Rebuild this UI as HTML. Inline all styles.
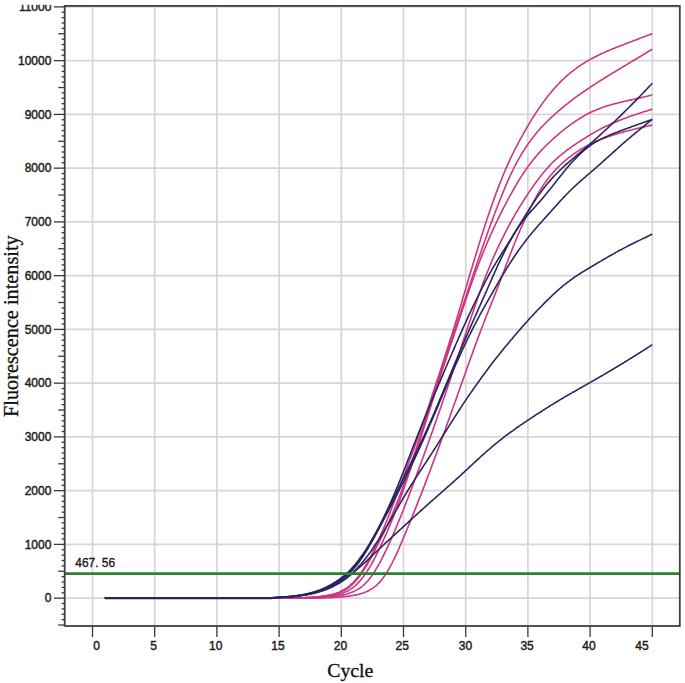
<!DOCTYPE html>
<html><head><meta charset="utf-8"><style>
html,body{margin:0;padding:0;background:#fff;}
body{width:685px;height:683px;overflow:hidden;font-family:"Liberation Sans",sans-serif;}
svg{display:block;}
</style></head><body><svg width="685" height="683" viewBox="0 0 685 683"><g stroke="#d6d6d6" stroke-width="1.7"><line x1="92.50" y1="5.9" x2="92.50" y2="626.0"/><line x1="154.70" y1="5.9" x2="154.70" y2="626.0"/><line x1="216.90" y1="5.9" x2="216.90" y2="626.0"/><line x1="279.10" y1="5.9" x2="279.10" y2="626.0"/><line x1="341.30" y1="5.9" x2="341.30" y2="626.0"/><line x1="403.50" y1="5.9" x2="403.50" y2="626.0"/><line x1="465.70" y1="5.9" x2="465.70" y2="626.0"/><line x1="527.90" y1="5.9" x2="527.90" y2="626.0"/><line x1="590.10" y1="5.9" x2="590.10" y2="626.0"/><line x1="652.30" y1="5.9" x2="652.30" y2="626.0"/><line x1="64.7" y1="598.15" x2="679.8" y2="598.15"/><line x1="64.7" y1="544.40" x2="679.8" y2="544.40"/><line x1="64.7" y1="490.65" x2="679.8" y2="490.65"/><line x1="64.7" y1="436.90" x2="679.8" y2="436.90"/><line x1="64.7" y1="383.15" x2="679.8" y2="383.15"/><line x1="64.7" y1="329.40" x2="679.8" y2="329.40"/><line x1="64.7" y1="275.65" x2="679.8" y2="275.65"/><line x1="64.7" y1="221.90" x2="679.8" y2="221.90"/><line x1="64.7" y1="168.15" x2="679.8" y2="168.15"/><line x1="64.7" y1="114.40" x2="679.8" y2="114.40"/><line x1="64.7" y1="60.65" x2="679.8" y2="60.65"/><line x1="64.7" y1="6.90" x2="679.8" y2="6.90"/></g><g stroke="#3a3a3a" stroke-width="1.3"><line x1="58.2" y1="625.02" x2="64.7" y2="625.02"/><line x1="61.6" y1="619.65" x2="64.7" y2="619.65"/><line x1="61.6" y1="614.27" x2="64.7" y2="614.27"/><line x1="61.6" y1="608.90" x2="64.7" y2="608.90"/><line x1="61.6" y1="603.52" x2="64.7" y2="603.52"/><line x1="53.8" y1="598.15" x2="64.7" y2="598.15"/><line x1="61.6" y1="592.77" x2="64.7" y2="592.77"/><line x1="61.6" y1="587.40" x2="64.7" y2="587.40"/><line x1="61.6" y1="582.02" x2="64.7" y2="582.02"/><line x1="61.6" y1="576.65" x2="64.7" y2="576.65"/><line x1="58.2" y1="571.27" x2="64.7" y2="571.27"/><line x1="61.6" y1="565.90" x2="64.7" y2="565.90"/><line x1="61.6" y1="560.52" x2="64.7" y2="560.52"/><line x1="61.6" y1="555.15" x2="64.7" y2="555.15"/><line x1="61.6" y1="549.77" x2="64.7" y2="549.77"/><line x1="53.8" y1="544.40" x2="64.7" y2="544.40"/><line x1="61.6" y1="539.02" x2="64.7" y2="539.02"/><line x1="61.6" y1="533.65" x2="64.7" y2="533.65"/><line x1="61.6" y1="528.27" x2="64.7" y2="528.27"/><line x1="61.6" y1="522.90" x2="64.7" y2="522.90"/><line x1="58.2" y1="517.52" x2="64.7" y2="517.52"/><line x1="61.6" y1="512.15" x2="64.7" y2="512.15"/><line x1="61.6" y1="506.77" x2="64.7" y2="506.77"/><line x1="61.6" y1="501.40" x2="64.7" y2="501.40"/><line x1="61.6" y1="496.02" x2="64.7" y2="496.02"/><line x1="53.8" y1="490.65" x2="64.7" y2="490.65"/><line x1="61.6" y1="485.27" x2="64.7" y2="485.27"/><line x1="61.6" y1="479.90" x2="64.7" y2="479.90"/><line x1="61.6" y1="474.52" x2="64.7" y2="474.52"/><line x1="61.6" y1="469.15" x2="64.7" y2="469.15"/><line x1="58.2" y1="463.77" x2="64.7" y2="463.77"/><line x1="61.6" y1="458.40" x2="64.7" y2="458.40"/><line x1="61.6" y1="453.02" x2="64.7" y2="453.02"/><line x1="61.6" y1="447.65" x2="64.7" y2="447.65"/><line x1="61.6" y1="442.27" x2="64.7" y2="442.27"/><line x1="53.8" y1="436.90" x2="64.7" y2="436.90"/><line x1="61.6" y1="431.52" x2="64.7" y2="431.52"/><line x1="61.6" y1="426.15" x2="64.7" y2="426.15"/><line x1="61.6" y1="420.77" x2="64.7" y2="420.77"/><line x1="61.6" y1="415.40" x2="64.7" y2="415.40"/><line x1="58.2" y1="410.02" x2="64.7" y2="410.02"/><line x1="61.6" y1="404.65" x2="64.7" y2="404.65"/><line x1="61.6" y1="399.27" x2="64.7" y2="399.27"/><line x1="61.6" y1="393.90" x2="64.7" y2="393.90"/><line x1="61.6" y1="388.52" x2="64.7" y2="388.52"/><line x1="53.8" y1="383.15" x2="64.7" y2="383.15"/><line x1="61.6" y1="377.77" x2="64.7" y2="377.77"/><line x1="61.6" y1="372.40" x2="64.7" y2="372.40"/><line x1="61.6" y1="367.02" x2="64.7" y2="367.02"/><line x1="61.6" y1="361.65" x2="64.7" y2="361.65"/><line x1="58.2" y1="356.27" x2="64.7" y2="356.27"/><line x1="61.6" y1="350.90" x2="64.7" y2="350.90"/><line x1="61.6" y1="345.52" x2="64.7" y2="345.52"/><line x1="61.6" y1="340.15" x2="64.7" y2="340.15"/><line x1="61.6" y1="334.77" x2="64.7" y2="334.77"/><line x1="53.8" y1="329.40" x2="64.7" y2="329.40"/><line x1="61.6" y1="324.02" x2="64.7" y2="324.02"/><line x1="61.6" y1="318.65" x2="64.7" y2="318.65"/><line x1="61.6" y1="313.27" x2="64.7" y2="313.27"/><line x1="61.6" y1="307.90" x2="64.7" y2="307.90"/><line x1="58.2" y1="302.52" x2="64.7" y2="302.52"/><line x1="61.6" y1="297.15" x2="64.7" y2="297.15"/><line x1="61.6" y1="291.77" x2="64.7" y2="291.77"/><line x1="61.6" y1="286.40" x2="64.7" y2="286.40"/><line x1="61.6" y1="281.02" x2="64.7" y2="281.02"/><line x1="53.8" y1="275.65" x2="64.7" y2="275.65"/><line x1="61.6" y1="270.27" x2="64.7" y2="270.27"/><line x1="61.6" y1="264.90" x2="64.7" y2="264.90"/><line x1="61.6" y1="259.52" x2="64.7" y2="259.52"/><line x1="61.6" y1="254.15" x2="64.7" y2="254.15"/><line x1="58.2" y1="248.77" x2="64.7" y2="248.77"/><line x1="61.6" y1="243.40" x2="64.7" y2="243.40"/><line x1="61.6" y1="238.02" x2="64.7" y2="238.02"/><line x1="61.6" y1="232.65" x2="64.7" y2="232.65"/><line x1="61.6" y1="227.27" x2="64.7" y2="227.27"/><line x1="53.8" y1="221.90" x2="64.7" y2="221.90"/><line x1="61.6" y1="216.52" x2="64.7" y2="216.52"/><line x1="61.6" y1="211.15" x2="64.7" y2="211.15"/><line x1="61.6" y1="205.77" x2="64.7" y2="205.77"/><line x1="61.6" y1="200.40" x2="64.7" y2="200.40"/><line x1="58.2" y1="195.02" x2="64.7" y2="195.02"/><line x1="61.6" y1="189.65" x2="64.7" y2="189.65"/><line x1="61.6" y1="184.27" x2="64.7" y2="184.27"/><line x1="61.6" y1="178.90" x2="64.7" y2="178.90"/><line x1="61.6" y1="173.52" x2="64.7" y2="173.52"/><line x1="53.8" y1="168.15" x2="64.7" y2="168.15"/><line x1="61.6" y1="162.77" x2="64.7" y2="162.77"/><line x1="61.6" y1="157.40" x2="64.7" y2="157.40"/><line x1="61.6" y1="152.02" x2="64.7" y2="152.02"/><line x1="61.6" y1="146.65" x2="64.7" y2="146.65"/><line x1="58.2" y1="141.27" x2="64.7" y2="141.27"/><line x1="61.6" y1="135.90" x2="64.7" y2="135.90"/><line x1="61.6" y1="130.52" x2="64.7" y2="130.52"/><line x1="61.6" y1="125.15" x2="64.7" y2="125.15"/><line x1="61.6" y1="119.77" x2="64.7" y2="119.77"/><line x1="53.8" y1="114.40" x2="64.7" y2="114.40"/><line x1="61.6" y1="109.02" x2="64.7" y2="109.02"/><line x1="61.6" y1="103.65" x2="64.7" y2="103.65"/><line x1="61.6" y1="98.27" x2="64.7" y2="98.27"/><line x1="61.6" y1="92.90" x2="64.7" y2="92.90"/><line x1="58.2" y1="87.52" x2="64.7" y2="87.52"/><line x1="61.6" y1="82.15" x2="64.7" y2="82.15"/><line x1="61.6" y1="76.77" x2="64.7" y2="76.77"/><line x1="61.6" y1="71.40" x2="64.7" y2="71.40"/><line x1="61.6" y1="66.02" x2="64.7" y2="66.02"/><line x1="53.8" y1="60.65" x2="64.7" y2="60.65"/><line x1="61.6" y1="55.27" x2="64.7" y2="55.27"/><line x1="61.6" y1="49.90" x2="64.7" y2="49.90"/><line x1="61.6" y1="44.52" x2="64.7" y2="44.52"/><line x1="61.6" y1="39.15" x2="64.7" y2="39.15"/><line x1="58.2" y1="33.77" x2="64.7" y2="33.77"/><line x1="61.6" y1="28.40" x2="64.7" y2="28.40"/><line x1="61.6" y1="23.02" x2="64.7" y2="23.02"/><line x1="61.6" y1="17.65" x2="64.7" y2="17.65"/><line x1="61.6" y1="12.27" x2="64.7" y2="12.27"/><line x1="53.8" y1="6.90" x2="64.7" y2="6.90"/><line x1="92.50" y1="626.0" x2="92.50" y2="637"/><line x1="154.70" y1="626.0" x2="154.70" y2="637"/><line x1="216.90" y1="626.0" x2="216.90" y2="637"/><line x1="279.10" y1="626.0" x2="279.10" y2="637"/><line x1="341.30" y1="626.0" x2="341.30" y2="637"/><line x1="403.50" y1="626.0" x2="403.50" y2="637"/><line x1="465.70" y1="626.0" x2="465.70" y2="637"/><line x1="527.90" y1="626.0" x2="527.90" y2="637"/><line x1="590.10" y1="626.0" x2="590.10" y2="637"/><line x1="652.30" y1="626.0" x2="652.30" y2="637"/></g><line x1="104.9" y1="598.15" x2="272" y2="598.15" stroke="#1f1a52" stroke-width="2.3"/><g fill="none" stroke-width="1.6" stroke-linejoin="round"><path d="M104.9,598.1 L105.9,598.1 L106.9,598.1 L107.9,598.1 L108.9,598.1 L109.9,598.1 L110.9,598.1 L111.9,598.1 L112.9,598.1 L113.9,598.1 L114.9,598.1 L115.9,598.1 L116.9,598.1 L117.9,598.1 L118.9,598.1 L119.9,598.1 L120.9,598.1 L121.9,598.1 L122.9,598.1 L123.9,598.1 L124.9,598.1 L125.9,598.1 L126.9,598.1 L127.9,598.1 L128.9,598.1 L129.9,598.1 L130.9,598.1 L131.9,598.1 L132.9,598.1 L133.9,598.1 L134.9,598.1 L135.9,598.1 L136.9,598.1 L137.9,598.1 L138.9,598.1 L139.9,598.1 L140.9,598.1 L141.9,598.1 L142.9,598.1 L143.9,598.1 L144.9,598.1 L145.9,598.1 L146.9,598.1 L147.9,598.1 L148.9,598.1 L149.9,598.1 L150.9,598.1 L151.9,598.1 L152.9,598.1 L153.9,598.1 L154.9,598.1 L155.9,598.1 L156.9,598.1 L157.9,598.1 L158.9,598.1 L159.9,598.1 L160.9,598.1 L161.9,598.1 L162.9,598.1 L163.9,598.1 L164.9,598.1 L165.9,598.1 L166.9,598.1 L167.9,598.1 L168.9,598.1 L169.9,598.1 L170.9,598.1 L171.9,598.1 L172.9,598.1 L173.9,598.1 L174.9,598.1 L175.9,598.1 L176.9,598.1 L177.9,598.1 L178.9,598.1 L179.9,598.1 L180.9,598.1 L181.9,598.1 L182.9,598.1 L183.9,598.1 L184.9,598.1 L185.9,598.1 L186.9,598.1 L187.9,598.1 L188.9,598.1 L189.9,598.1 L190.9,598.1 L191.9,598.1 L192.9,598.1 L193.9,598.1 L194.9,598.1 L195.9,598.1 L196.9,598.1 L197.9,598.1 L198.9,598.1 L199.9,598.1 L200.9,598.1 L201.9,598.1 L202.9,598.1 L203.9,598.1 L204.9,598.1 L205.9,598.1 L206.9,598.1 L207.9,598.1 L208.9,598.1 L209.9,598.1 L210.9,598.1 L211.9,598.1 L212.9,598.1 L213.9,598.1 L214.9,598.1 L215.9,598.1 L216.9,598.1 L217.9,598.1 L218.9,598.1 L219.9,598.1 L220.9,598.1 L221.9,598.1 L222.9,598.1 L223.9,598.1 L224.9,598.1 L225.9,598.1 L226.9,598.1 L227.9,598.1 L228.9,598.1 L229.9,598.1 L230.9,598.1 L231.9,598.1 L232.9,598.1 L233.9,598.1 L234.9,598.1 L235.9,598.1 L236.9,598.1 L237.9,598.1 L238.9,598.1 L239.9,598.1 L240.9,598.1 L241.9,598.1 L242.9,598.1 L243.9,598.1 L244.9,598.1 L245.9,598.1 L246.9,598.1 L247.9,598.1 L248.9,598.1 L249.9,598.1 L250.9,598.1 L251.9,598.1 L252.9,598.1 L253.9,598.1 L254.9,598.1 L255.9,598.1 L256.9,598.1 L257.9,598.1 L258.9,598.1 L259.9,598.1 L260.9,598.1 L261.9,598.1 L262.9,598.1 L263.9,598.1 L264.9,598.1 L265.9,598.1 L266.9,598.1 L267.9,598.1 L268.9,598.1 L269.9,598.1 L270.9,598.1 L271.9,598.1 L272.9,598.1 L273.9,598.1 L274.9,598.1 L275.9,598.1 L276.9,598.1 L277.9,598.1 L278.9,598.1 L279.9,598.1 L280.9,598.1 L281.9,598.1 L282.9,598.1 L283.9,598.1 L284.9,598.1 L285.9,598.1 L286.9,598.1 L287.9,598.1 L288.9,598.1 L289.9,598.1 L290.9,598.1 L291.9,598.1 L292.9,598.1 L293.9,598.0 L294.9,598.0 L295.9,598.0 L296.9,597.9 L297.9,597.9 L298.9,597.9 L299.9,597.8 L300.9,597.8 L301.9,597.7 L302.9,597.7 L303.9,597.7 L304.9,597.6 L305.9,597.6 L306.9,597.5 L307.9,597.4 L308.9,597.4 L309.9,597.3 L310.9,597.3 L311.9,597.2 L312.9,597.1 L313.9,597.0 L314.9,597.0 L315.9,596.9 L316.9,596.8 L317.9,596.7 L318.9,596.6 L319.9,596.5 L320.9,596.4 L321.9,596.2 L322.9,596.1 L323.9,596.0 L324.9,595.8 L325.9,595.7 L326.9,595.5 L327.9,595.3 L328.9,595.1 L329.9,594.9 L330.9,594.7 L331.9,594.4 L332.9,594.2 L333.9,593.9 L334.9,593.6 L335.9,593.3 L336.9,592.9 L337.9,592.6 L338.9,592.2 L339.9,591.7 L340.9,591.3 L341.9,590.8 L342.9,590.3 L343.9,589.7 L344.9,589.1 L345.9,588.5 L346.9,587.8 L347.9,587.1 L348.9,586.3 L349.9,585.5 L350.9,584.6 L351.9,583.7 L352.9,582.7 L353.9,581.7 L354.9,580.6 L355.9,579.5 L356.9,578.3 L357.9,577.0 L358.9,575.7 L359.9,574.3 L360.9,572.9 L361.9,571.5 L362.9,569.9 L363.9,568.4 L364.9,566.7 L365.9,565.1 L366.9,563.3 L367.9,561.6 L368.9,559.7 L369.9,557.9 L370.9,556.0 L371.9,554.0 L372.9,552.0 L373.9,549.9 L374.9,547.9 L375.9,545.7 L376.9,543.6 L377.9,541.4 L378.9,539.2 L379.9,536.9 L380.9,534.6 L381.9,532.3 L382.9,530.0 L383.9,527.6 L384.9,525.2 L385.9,522.8 L386.9,520.3 L387.9,517.8 L388.9,515.3 L389.9,512.8 L390.9,510.2 L391.9,507.6 L392.9,505.0 L393.9,502.4 L394.9,499.8 L395.9,497.1 L396.9,494.5 L397.9,491.8 L398.9,489.1 L399.9,486.4 L400.9,483.8 L401.9,481.1 L402.9,478.4 L403.9,475.7 L404.9,473.0 L405.9,470.3 L406.9,467.6 L407.9,464.9 L408.9,462.2 L409.9,459.5 L410.9,456.8 L411.9,454.1 L412.9,451.3 L413.9,448.6 L414.9,445.8 L415.9,443.1 L416.9,440.3 L417.9,437.5 L418.9,434.7 L419.9,431.8 L420.9,429.0 L421.9,426.1 L422.9,423.2 L423.9,420.3 L424.9,417.3 L425.9,414.4 L426.9,411.4 L427.9,408.4 L428.9,405.4 L429.9,402.4 L430.9,399.4 L431.9,396.3 L432.9,393.3 L433.9,390.2 L434.9,387.2 L435.9,384.1 L436.9,381.1 L437.9,378.0 L438.9,374.9 L439.9,371.9 L440.9,368.8 L441.9,365.7 L442.9,362.6 L443.9,359.5 L444.9,356.4 L445.9,353.3 L446.9,350.2 L447.9,347.1 L448.9,343.9 L449.9,340.8 L450.9,337.6 L451.9,334.4 L452.9,331.2 L453.9,328.0 L454.9,324.7 L455.9,321.5 L456.9,318.2 L457.9,314.9 L458.9,311.5 L459.9,308.2 L460.9,304.9 L461.9,301.5 L462.9,298.1 L463.9,294.8 L464.9,291.4 L465.9,288.0 L466.9,284.6 L467.9,281.2 L468.9,277.8 L469.9,274.5 L470.9,271.1 L471.9,267.8 L472.9,264.4 L473.9,261.1 L474.9,257.8 L475.9,254.4 L476.9,251.2 L477.9,247.9 L478.9,244.6 L479.9,241.4 L480.9,238.2 L481.9,235.0 L482.9,231.9 L483.9,228.8 L484.9,225.7 L485.9,222.6 L486.9,219.6 L487.9,216.6 L488.9,213.7 L489.9,210.7 L490.9,207.8 L491.9,205.0 L492.9,202.1 L493.9,199.3 L494.9,196.6 L495.9,193.8 L496.9,191.1 L497.9,188.5 L498.9,185.9 L499.9,183.3 L500.9,180.7 L501.9,178.2 L502.9,175.8 L503.9,173.4 L504.9,171.0 L505.9,168.6 L506.9,166.4 L507.9,164.1 L508.9,161.9 L509.9,159.8 L510.9,157.6 L511.9,155.6 L512.9,153.5 L513.9,151.5 L514.9,149.5 L515.9,147.6 L516.9,145.7 L517.9,143.8 L518.9,141.9 L519.9,140.0 L520.9,138.2 L521.9,136.4 L522.9,134.6 L523.9,132.8 L524.9,131.0 L525.9,129.3 L526.9,127.5 L527.9,125.8 L528.9,124.1 L529.9,122.5 L530.9,120.8 L531.9,119.2 L532.9,117.6 L533.9,116.0 L534.9,114.5 L535.9,112.9 L536.9,111.4 L537.9,109.9 L538.9,108.4 L539.9,107.0 L540.9,105.5 L541.9,104.1 L542.9,102.7 L543.9,101.4 L544.9,100.0 L545.9,98.7 L546.9,97.4 L547.9,96.1 L548.9,94.9 L549.9,93.6 L550.9,92.4 L551.9,91.2 L552.9,90.0 L553.9,88.9 L554.9,87.8 L555.9,86.7 L556.9,85.6 L557.9,84.5 L558.9,83.5 L559.9,82.4 L560.9,81.4 L561.9,80.4 L562.9,79.5 L563.9,78.5 L564.9,77.6 L565.9,76.7 L566.9,75.8 L567.9,74.9 L568.9,74.1 L569.9,73.2 L570.9,72.4 L571.9,71.6 L572.9,70.8 L573.9,70.1 L574.9,69.3 L575.9,68.6 L576.9,67.8 L577.9,67.1 L578.9,66.4 L579.9,65.8 L580.9,65.1 L581.9,64.4 L582.9,63.8 L583.9,63.2 L584.9,62.5 L585.9,61.9 L586.9,61.3 L587.9,60.8 L588.9,60.2 L589.9,59.6 L590.9,59.1 L591.9,58.5 L592.9,58.0 L593.9,57.5 L594.9,57.0 L595.9,56.5 L596.9,56.0 L597.9,55.5 L598.9,55.0 L599.9,54.5 L600.9,54.0 L601.9,53.6 L602.9,53.1 L603.9,52.7 L604.9,52.2 L605.9,51.8 L606.9,51.3 L607.9,50.9 L608.9,50.5 L609.9,50.1 L610.9,49.6 L611.9,49.2 L612.9,48.8 L613.9,48.4 L614.9,48.0 L615.9,47.6 L616.9,47.2 L617.9,46.8 L618.9,46.4 L619.9,46.0 L620.9,45.6 L621.9,45.2 L622.9,44.9 L623.9,44.5 L624.9,44.1 L625.9,43.7 L626.9,43.3 L627.9,42.9 L628.9,42.5 L629.9,42.1 L630.9,41.8 L631.9,41.4 L632.9,41.0 L633.9,40.6 L634.9,40.2 L635.9,39.9 L636.9,39.5 L637.9,39.1 L638.9,38.7 L639.9,38.3 L640.9,38.0 L641.9,37.6 L642.9,37.2 L643.9,36.8 L644.9,36.5 L645.9,36.1 L646.9,35.7 L647.9,35.3 L648.9,35.0 L649.9,34.6 L650.9,34.2 L651.9,33.8 L652.3,33.7" stroke="#cc3582"/><path d="M104.9,598.1 L105.9,598.1 L106.9,598.1 L107.9,598.1 L108.9,598.1 L109.9,598.1 L110.9,598.1 L111.9,598.1 L112.9,598.1 L113.9,598.1 L114.9,598.1 L115.9,598.1 L116.9,598.1 L117.9,598.1 L118.9,598.1 L119.9,598.1 L120.9,598.1 L121.9,598.1 L122.9,598.1 L123.9,598.1 L124.9,598.1 L125.9,598.1 L126.9,598.1 L127.9,598.1 L128.9,598.1 L129.9,598.1 L130.9,598.1 L131.9,598.1 L132.9,598.1 L133.9,598.1 L134.9,598.1 L135.9,598.1 L136.9,598.1 L137.9,598.1 L138.9,598.1 L139.9,598.1 L140.9,598.1 L141.9,598.1 L142.9,598.1 L143.9,598.1 L144.9,598.1 L145.9,598.1 L146.9,598.1 L147.9,598.1 L148.9,598.1 L149.9,598.1 L150.9,598.1 L151.9,598.1 L152.9,598.1 L153.9,598.1 L154.9,598.1 L155.9,598.1 L156.9,598.1 L157.9,598.1 L158.9,598.1 L159.9,598.1 L160.9,598.1 L161.9,598.1 L162.9,598.1 L163.9,598.1 L164.9,598.1 L165.9,598.1 L166.9,598.1 L167.9,598.1 L168.9,598.1 L169.9,598.1 L170.9,598.1 L171.9,598.1 L172.9,598.1 L173.9,598.1 L174.9,598.1 L175.9,598.1 L176.9,598.1 L177.9,598.1 L178.9,598.1 L179.9,598.1 L180.9,598.1 L181.9,598.1 L182.9,598.1 L183.9,598.1 L184.9,598.1 L185.9,598.1 L186.9,598.1 L187.9,598.1 L188.9,598.1 L189.9,598.1 L190.9,598.1 L191.9,598.1 L192.9,598.1 L193.9,598.1 L194.9,598.1 L195.9,598.1 L196.9,598.1 L197.9,598.1 L198.9,598.1 L199.9,598.1 L200.9,598.1 L201.9,598.1 L202.9,598.1 L203.9,598.1 L204.9,598.1 L205.9,598.1 L206.9,598.1 L207.9,598.1 L208.9,598.1 L209.9,598.1 L210.9,598.1 L211.9,598.1 L212.9,598.1 L213.9,598.1 L214.9,598.1 L215.9,598.1 L216.9,598.1 L217.9,598.1 L218.9,598.1 L219.9,598.1 L220.9,598.1 L221.9,598.1 L222.9,598.1 L223.9,598.1 L224.9,598.1 L225.9,598.1 L226.9,598.1 L227.9,598.1 L228.9,598.1 L229.9,598.1 L230.9,598.1 L231.9,598.1 L232.9,598.1 L233.9,598.1 L234.9,598.1 L235.9,598.1 L236.9,598.1 L237.9,598.1 L238.9,598.1 L239.9,598.1 L240.9,598.1 L241.9,598.1 L242.9,598.1 L243.9,598.1 L244.9,598.1 L245.9,598.1 L246.9,598.1 L247.9,598.1 L248.9,598.1 L249.9,598.1 L250.9,598.1 L251.9,598.1 L252.9,598.1 L253.9,598.1 L254.9,598.1 L255.9,598.1 L256.9,598.1 L257.9,598.1 L258.9,598.1 L259.9,598.1 L260.9,598.1 L261.9,598.1 L262.9,598.1 L263.9,598.1 L264.9,598.1 L265.9,598.1 L266.9,598.1 L267.9,598.1 L268.9,598.1 L269.9,598.1 L270.9,598.1 L271.9,598.1 L272.9,598.1 L273.9,598.1 L274.9,598.1 L275.9,598.1 L276.9,598.1 L277.9,598.1 L278.9,598.1 L279.9,598.1 L280.9,598.1 L281.9,598.1 L282.9,598.1 L283.9,598.1 L284.9,598.1 L285.9,598.1 L286.9,598.1 L287.9,598.1 L288.9,598.1 L289.9,598.1 L290.9,598.1 L291.9,598.1 L292.9,598.1 L293.9,598.1 L294.9,598.1 L295.9,598.0 L296.9,598.0 L297.9,598.0 L298.9,597.9 L299.9,597.9 L300.9,597.9 L301.9,597.8 L302.9,597.8 L303.9,597.7 L304.9,597.7 L305.9,597.7 L306.9,597.6 L307.9,597.6 L308.9,597.5 L309.9,597.4 L310.9,597.4 L311.9,597.3 L312.9,597.3 L313.9,597.2 L314.9,597.1 L315.9,597.0 L316.9,597.0 L317.9,596.9 L318.9,596.8 L319.9,596.7 L320.9,596.6 L321.9,596.5 L322.9,596.4 L323.9,596.3 L324.9,596.1 L325.9,596.0 L326.9,595.8 L327.9,595.7 L328.9,595.5 L329.9,595.3 L330.9,595.1 L331.9,594.9 L332.9,594.7 L333.9,594.4 L334.9,594.2 L335.9,593.9 L336.9,593.6 L337.9,593.2 L338.9,592.9 L339.9,592.5 L340.9,592.0 L341.9,591.6 L342.9,591.1 L343.9,590.6 L344.9,590.0 L345.9,589.4 L346.9,588.8 L347.9,588.1 L348.9,587.4 L349.9,586.6 L350.9,585.7 L351.9,584.8 L352.9,583.9 L353.9,582.9 L354.9,581.9 L355.9,580.7 L356.9,579.6 L357.9,578.4 L358.9,577.1 L359.9,575.7 L360.9,574.4 L361.9,572.9 L362.9,571.4 L363.9,569.9 L364.9,568.3 L365.9,566.7 L366.9,565.0 L367.9,563.3 L368.9,561.6 L369.9,559.8 L370.9,558.0 L371.9,556.1 L372.9,554.2 L373.9,552.3 L374.9,550.4 L375.9,548.4 L376.9,546.5 L377.9,544.5 L378.9,542.5 L379.9,540.5 L380.9,538.4 L381.9,536.4 L382.9,534.4 L383.9,532.3 L384.9,530.2 L385.9,528.1 L386.9,526.0 L387.9,523.9 L388.9,521.7 L389.9,519.6 L390.9,517.3 L391.9,515.1 L392.9,512.8 L393.9,510.4 L394.9,508.0 L395.9,505.6 L396.9,503.1 L397.9,500.6 L398.9,498.0 L399.9,495.4 L400.9,492.7 L401.9,490.0 L402.9,487.3 L403.9,484.5 L404.9,481.8 L405.9,478.9 L406.9,476.1 L407.9,473.2 L408.9,470.3 L409.9,467.4 L410.9,464.5 L411.9,461.5 L412.9,458.5 L413.9,455.5 L414.9,452.4 L415.9,449.4 L416.9,446.3 L417.9,443.2 L418.9,440.1 L419.9,437.0 L420.9,433.9 L421.9,430.8 L422.9,427.7 L423.9,424.5 L424.9,421.4 L425.9,418.3 L426.9,415.1 L427.9,412.0 L428.9,408.8 L429.9,405.7 L430.9,402.5 L431.9,399.4 L432.9,396.2 L433.9,393.1 L434.9,390.0 L435.9,386.9 L436.9,383.8 L437.9,380.7 L438.9,377.6 L439.9,374.5 L440.9,371.5 L441.9,368.4 L442.9,365.4 L443.9,362.3 L444.9,359.3 L445.9,356.3 L446.9,353.3 L447.9,350.3 L448.9,347.3 L449.9,344.3 L450.9,341.3 L451.9,338.3 L452.9,335.3 L453.9,332.3 L454.9,329.3 L455.9,326.4 L456.9,323.4 L457.9,320.4 L458.9,317.4 L459.9,314.4 L460.9,311.4 L461.9,308.4 L462.9,305.4 L463.9,302.4 L464.9,299.4 L465.9,296.4 L466.9,293.5 L467.9,290.5 L468.9,287.5 L469.9,284.5 L470.9,281.5 L471.9,278.5 L472.9,275.6 L473.9,272.6 L474.9,269.7 L475.9,266.7 L476.9,263.8 L477.9,260.8 L478.9,257.9 L479.9,255.0 L480.9,252.1 L481.9,249.2 L482.9,246.3 L483.9,243.4 L484.9,240.5 L485.9,237.7 L486.9,234.9 L487.9,232.1 L488.9,229.3 L489.9,226.5 L490.9,223.8 L491.9,221.1 L492.9,218.4 L493.9,215.7 L494.9,213.0 L495.9,210.4 L496.9,207.8 L497.9,205.2 L498.9,202.6 L499.9,200.1 L500.9,197.6 L501.9,195.1 L502.9,192.6 L503.9,190.2 L504.9,187.8 L505.9,185.4 L506.9,183.1 L507.9,180.8 L508.9,178.6 L509.9,176.4 L510.9,174.2 L511.9,172.1 L512.9,170.0 L513.9,168.0 L514.9,166.0 L515.9,164.1 L516.9,162.2 L517.9,160.4 L518.9,158.6 L519.9,156.9 L520.9,155.2 L521.9,153.5 L522.9,151.9 L523.9,150.3 L524.9,148.7 L525.9,147.2 L526.9,145.8 L527.9,144.3 L528.9,142.9 L529.9,141.5 L530.9,140.1 L531.9,138.8 L532.9,137.5 L533.9,136.2 L534.9,134.9 L535.9,133.7 L536.9,132.5 L537.9,131.3 L538.9,130.2 L539.9,129.0 L540.9,127.9 L541.9,126.8 L542.9,125.8 L543.9,124.7 L544.9,123.7 L545.9,122.7 L546.9,121.7 L547.9,120.7 L548.9,119.7 L549.9,118.7 L550.9,117.8 L551.9,116.9 L552.9,116.0 L553.9,115.0 L554.9,114.1 L555.9,113.3 L556.9,112.4 L557.9,111.5 L558.9,110.6 L559.9,109.8 L560.9,108.9 L561.9,108.1 L562.9,107.3 L563.9,106.5 L564.9,105.6 L565.9,104.8 L566.9,104.0 L567.9,103.3 L568.9,102.5 L569.9,101.7 L570.9,100.9 L571.9,100.2 L572.9,99.4 L573.9,98.7 L574.9,97.9 L575.9,97.2 L576.9,96.4 L577.9,95.7 L578.9,95.0 L579.9,94.3 L580.9,93.6 L581.9,92.9 L582.9,92.2 L583.9,91.5 L584.9,90.8 L585.9,90.1 L586.9,89.4 L587.9,88.8 L588.9,88.1 L589.9,87.4 L590.9,86.8 L591.9,86.1 L592.9,85.4 L593.9,84.8 L594.9,84.1 L595.9,83.5 L596.9,82.9 L597.9,82.2 L598.9,81.6 L599.9,80.9 L600.9,80.3 L601.9,79.7 L602.9,79.1 L603.9,78.4 L604.9,77.8 L605.9,77.2 L606.9,76.6 L607.9,76.0 L608.9,75.4 L609.9,74.7 L610.9,74.1 L611.9,73.5 L612.9,72.9 L613.9,72.3 L614.9,71.7 L615.9,71.1 L616.9,70.5 L617.9,69.9 L618.9,69.3 L619.9,68.7 L620.9,68.1 L621.9,67.5 L622.9,66.9 L623.9,66.3 L624.9,65.7 L625.9,65.1 L626.9,64.5 L627.9,63.9 L628.9,63.3 L629.9,62.7 L630.9,62.1 L631.9,61.5 L632.9,60.9 L633.9,60.3 L634.9,59.7 L635.9,59.1 L636.9,58.5 L637.9,57.9 L638.9,57.3 L639.9,56.7 L640.9,56.1 L641.9,55.5 L642.9,54.9 L643.9,54.3 L644.9,53.7 L645.9,53.0 L646.9,52.4 L647.9,51.8 L648.9,51.2 L649.9,50.6 L650.9,50.0 L651.9,49.4 L652.3,49.2" stroke="#cc3582"/><path d="M104.9,598.1 L105.9,598.1 L106.9,598.1 L107.9,598.1 L108.9,598.1 L109.9,598.1 L110.9,598.1 L111.9,598.1 L112.9,598.1 L113.9,598.1 L114.9,598.1 L115.9,598.1 L116.9,598.1 L117.9,598.1 L118.9,598.1 L119.9,598.1 L120.9,598.1 L121.9,598.1 L122.9,598.1 L123.9,598.1 L124.9,598.1 L125.9,598.1 L126.9,598.1 L127.9,598.1 L128.9,598.1 L129.9,598.1 L130.9,598.1 L131.9,598.1 L132.9,598.1 L133.9,598.1 L134.9,598.1 L135.9,598.1 L136.9,598.1 L137.9,598.1 L138.9,598.1 L139.9,598.1 L140.9,598.1 L141.9,598.1 L142.9,598.1 L143.9,598.1 L144.9,598.1 L145.9,598.1 L146.9,598.1 L147.9,598.1 L148.9,598.1 L149.9,598.1 L150.9,598.1 L151.9,598.1 L152.9,598.1 L153.9,598.1 L154.9,598.1 L155.9,598.1 L156.9,598.1 L157.9,598.1 L158.9,598.1 L159.9,598.1 L160.9,598.1 L161.9,598.1 L162.9,598.1 L163.9,598.1 L164.9,598.1 L165.9,598.1 L166.9,598.1 L167.9,598.1 L168.9,598.1 L169.9,598.1 L170.9,598.1 L171.9,598.1 L172.9,598.1 L173.9,598.1 L174.9,598.1 L175.9,598.1 L176.9,598.1 L177.9,598.1 L178.9,598.1 L179.9,598.1 L180.9,598.1 L181.9,598.1 L182.9,598.1 L183.9,598.1 L184.9,598.1 L185.9,598.1 L186.9,598.1 L187.9,598.1 L188.9,598.1 L189.9,598.1 L190.9,598.1 L191.9,598.1 L192.9,598.1 L193.9,598.1 L194.9,598.1 L195.9,598.1 L196.9,598.1 L197.9,598.1 L198.9,598.1 L199.9,598.1 L200.9,598.1 L201.9,598.1 L202.9,598.1 L203.9,598.1 L204.9,598.1 L205.9,598.1 L206.9,598.1 L207.9,598.1 L208.9,598.1 L209.9,598.1 L210.9,598.1 L211.9,598.1 L212.9,598.1 L213.9,598.1 L214.9,598.1 L215.9,598.1 L216.9,598.1 L217.9,598.1 L218.9,598.1 L219.9,598.1 L220.9,598.1 L221.9,598.1 L222.9,598.1 L223.9,598.1 L224.9,598.1 L225.9,598.1 L226.9,598.1 L227.9,598.1 L228.9,598.1 L229.9,598.1 L230.9,598.1 L231.9,598.1 L232.9,598.1 L233.9,598.1 L234.9,598.1 L235.9,598.1 L236.9,598.1 L237.9,598.1 L238.9,598.1 L239.9,598.1 L240.9,598.1 L241.9,598.1 L242.9,598.1 L243.9,598.1 L244.9,598.1 L245.9,598.1 L246.9,598.1 L247.9,598.1 L248.9,598.1 L249.9,598.1 L250.9,598.1 L251.9,598.1 L252.9,598.1 L253.9,598.1 L254.9,598.1 L255.9,598.1 L256.9,598.1 L257.9,598.1 L258.9,598.1 L259.9,598.1 L260.9,598.1 L261.9,598.1 L262.9,598.1 L263.9,598.1 L264.9,598.1 L265.9,598.1 L266.9,598.1 L267.9,598.1 L268.9,598.1 L269.9,598.1 L270.9,598.1 L271.9,598.1 L272.9,598.1 L273.9,598.1 L274.9,598.1 L275.9,598.1 L276.9,598.1 L277.9,598.1 L278.9,598.1 L279.9,598.1 L280.9,598.1 L281.9,598.1 L282.9,598.1 L283.9,598.1 L284.9,598.1 L285.9,598.1 L286.9,598.1 L287.9,598.1 L288.9,598.1 L289.9,598.1 L290.9,598.1 L291.9,598.1 L292.9,598.1 L293.9,598.1 L294.9,598.1 L295.9,598.1 L296.9,598.1 L297.9,598.1 L298.9,598.1 L299.9,598.0 L300.9,598.0 L301.9,598.0 L302.9,597.9 L303.9,597.9 L304.9,597.9 L305.9,597.8 L306.9,597.8 L307.9,597.7 L308.9,597.7 L309.9,597.7 L310.9,597.6 L311.9,597.6 L312.9,597.5 L313.9,597.4 L314.9,597.4 L315.9,597.3 L316.9,597.3 L317.9,597.2 L318.9,597.1 L319.9,597.0 L320.9,597.0 L321.9,596.9 L322.9,596.8 L323.9,596.7 L324.9,596.6 L325.9,596.5 L326.9,596.4 L327.9,596.3 L328.9,596.1 L329.9,596.0 L330.9,595.8 L331.9,595.7 L332.9,595.5 L333.9,595.3 L334.9,595.1 L335.9,594.9 L336.9,594.7 L337.9,594.4 L338.9,594.2 L339.9,593.9 L340.9,593.6 L341.9,593.3 L342.9,592.9 L343.9,592.5 L344.9,592.1 L345.9,591.7 L346.9,591.2 L347.9,590.7 L348.9,590.1 L349.9,589.6 L350.9,588.9 L351.9,588.3 L352.9,587.5 L353.9,586.8 L354.9,586.0 L355.9,585.1 L356.9,584.1 L357.9,583.2 L358.9,582.1 L359.9,581.0 L360.9,579.8 L361.9,578.6 L362.9,577.3 L363.9,576.0 L364.9,574.6 L365.9,573.1 L366.9,571.6 L367.9,570.0 L368.9,568.4 L369.9,566.8 L370.9,565.1 L371.9,563.3 L372.9,561.5 L373.9,559.7 L374.9,557.8 L375.9,555.8 L376.9,553.8 L377.9,551.8 L378.9,549.8 L379.9,547.7 L380.9,545.6 L381.9,543.4 L382.9,541.2 L383.9,539.0 L384.9,536.8 L385.9,534.6 L386.9,532.3 L387.9,530.0 L388.9,527.6 L389.9,525.2 L390.9,522.8 L391.9,520.4 L392.9,517.9 L393.9,515.4 L394.9,512.9 L395.9,510.3 L396.9,507.7 L397.9,505.0 L398.9,502.3 L399.9,499.6 L400.9,496.8 L401.9,494.0 L402.9,491.2 L403.9,488.4 L404.9,485.5 L405.9,482.6 L406.9,479.7 L407.9,476.8 L408.9,473.8 L409.9,470.9 L410.9,467.9 L411.9,464.9 L412.9,461.9 L413.9,458.9 L414.9,455.8 L415.9,452.8 L416.9,449.7 L417.9,446.7 L418.9,443.6 L419.9,440.5 L420.9,437.4 L421.9,434.2 L422.9,431.1 L423.9,428.0 L424.9,424.8 L425.9,421.7 L426.9,418.5 L427.9,415.4 L428.9,412.2 L429.9,409.0 L430.9,405.9 L431.9,402.7 L432.9,399.6 L433.9,396.4 L434.9,393.3 L435.9,390.1 L436.9,387.0 L437.9,383.9 L438.9,380.8 L439.9,377.7 L440.9,374.6 L441.9,371.5 L442.9,368.5 L443.9,365.4 L444.9,362.4 L445.9,359.4 L446.9,356.3 L447.9,353.3 L448.9,350.3 L449.9,347.3 L450.9,344.3 L451.9,341.3 L452.9,338.4 L453.9,335.4 L454.9,332.4 L455.9,329.4 L456.9,326.4 L457.9,323.4 L458.9,320.4 L459.9,317.4 L460.9,314.5 L461.9,311.5 L462.9,308.5 L463.9,305.5 L464.9,302.6 L465.9,299.6 L466.9,296.7 L467.9,293.7 L468.9,290.8 L469.9,288.0 L470.9,285.1 L471.9,282.3 L472.9,279.5 L473.9,276.7 L474.9,273.9 L475.9,271.2 L476.9,268.5 L477.9,265.9 L478.9,263.3 L479.9,260.7 L480.9,258.1 L481.9,255.6 L482.9,253.1 L483.9,250.7 L484.9,248.3 L485.9,245.9 L486.9,243.5 L487.9,241.2 L488.9,238.9 L489.9,236.6 L490.9,234.3 L491.9,232.1 L492.9,229.9 L493.9,227.7 L494.9,225.6 L495.9,223.5 L496.9,221.4 L497.9,219.3 L498.9,217.2 L499.9,215.2 L500.9,213.2 L501.9,211.2 L502.9,209.2 L503.9,207.2 L504.9,205.3 L505.9,203.4 L506.9,201.5 L507.9,199.6 L508.9,197.7 L509.9,195.9 L510.9,194.1 L511.9,192.3 L512.9,190.5 L513.9,188.7 L514.9,187.0 L515.9,185.3 L516.9,183.6 L517.9,182.0 L518.9,180.3 L519.9,178.7 L520.9,177.1 L521.9,175.6 L522.9,174.0 L523.9,172.5 L524.9,171.1 L525.9,169.6 L526.9,168.2 L527.9,166.8 L528.9,165.4 L529.9,164.1 L530.9,162.8 L531.9,161.5 L532.9,160.2 L533.9,159.0 L534.9,157.8 L535.9,156.6 L536.9,155.4 L537.9,154.2 L538.9,153.1 L539.9,152.0 L540.9,150.9 L541.9,149.9 L542.9,148.8 L543.9,147.8 L544.9,146.8 L545.9,145.8 L546.9,144.8 L547.9,143.8 L548.9,142.8 L549.9,141.9 L550.9,141.0 L551.9,140.0 L552.9,139.1 L553.9,138.2 L554.9,137.3 L555.9,136.4 L556.9,135.6 L557.9,134.7 L558.9,133.8 L559.9,133.0 L560.9,132.2 L561.9,131.3 L562.9,130.5 L563.9,129.7 L564.9,128.9 L565.9,128.1 L566.9,127.4 L567.9,126.6 L568.9,125.9 L569.9,125.1 L570.9,124.4 L571.9,123.7 L572.9,123.0 L573.9,122.3 L574.9,121.6 L575.9,120.9 L576.9,120.3 L577.9,119.6 L578.9,119.0 L579.9,118.3 L580.9,117.7 L581.9,117.1 L582.9,116.5 L583.9,116.0 L584.9,115.4 L585.9,114.8 L586.9,114.3 L587.9,113.8 L588.9,113.3 L589.9,112.8 L590.9,112.3 L591.9,111.8 L592.9,111.3 L593.9,110.9 L594.9,110.5 L595.9,110.0 L596.9,109.6 L597.9,109.2 L598.9,108.8 L599.9,108.4 L600.9,108.0 L601.9,107.7 L602.9,107.3 L603.9,107.0 L604.9,106.6 L605.9,106.3 L606.9,106.0 L607.9,105.7 L608.9,105.4 L609.9,105.1 L610.9,104.8 L611.9,104.5 L612.9,104.2 L613.9,103.9 L614.9,103.7 L615.9,103.4 L616.9,103.2 L617.9,102.9 L618.9,102.7 L619.9,102.4 L620.9,102.2 L621.9,101.9 L622.9,101.7 L623.9,101.5 L624.9,101.2 L625.9,101.0 L626.9,100.8 L627.9,100.6 L628.9,100.4 L629.9,100.1 L630.9,99.9 L631.9,99.7 L632.9,99.5 L633.9,99.3 L634.9,99.0 L635.9,98.8 L636.9,98.6 L637.9,98.4 L638.9,98.1 L639.9,97.9 L640.9,97.7 L641.9,97.4 L642.9,97.2 L643.9,97.0 L644.9,96.7 L645.9,96.5 L646.9,96.2 L647.9,96.0 L648.9,95.7 L649.9,95.5 L650.9,95.2 L651.9,95.0 L652.3,94.9" stroke="#cc3582"/><path d="M104.9,598.1 L105.9,598.1 L106.9,598.1 L107.9,598.1 L108.9,598.1 L109.9,598.1 L110.9,598.1 L111.9,598.1 L112.9,598.1 L113.9,598.1 L114.9,598.1 L115.9,598.1 L116.9,598.1 L117.9,598.1 L118.9,598.1 L119.9,598.1 L120.9,598.1 L121.9,598.1 L122.9,598.1 L123.9,598.1 L124.9,598.1 L125.9,598.1 L126.9,598.1 L127.9,598.1 L128.9,598.1 L129.9,598.1 L130.9,598.1 L131.9,598.1 L132.9,598.1 L133.9,598.1 L134.9,598.1 L135.9,598.1 L136.9,598.1 L137.9,598.1 L138.9,598.1 L139.9,598.1 L140.9,598.1 L141.9,598.1 L142.9,598.1 L143.9,598.1 L144.9,598.1 L145.9,598.1 L146.9,598.1 L147.9,598.1 L148.9,598.1 L149.9,598.1 L150.9,598.1 L151.9,598.1 L152.9,598.1 L153.9,598.1 L154.9,598.1 L155.9,598.1 L156.9,598.1 L157.9,598.1 L158.9,598.1 L159.9,598.1 L160.9,598.1 L161.9,598.1 L162.9,598.1 L163.9,598.1 L164.9,598.1 L165.9,598.1 L166.9,598.1 L167.9,598.1 L168.9,598.1 L169.9,598.1 L170.9,598.1 L171.9,598.1 L172.9,598.1 L173.9,598.1 L174.9,598.1 L175.9,598.1 L176.9,598.1 L177.9,598.1 L178.9,598.1 L179.9,598.1 L180.9,598.1 L181.9,598.1 L182.9,598.1 L183.9,598.1 L184.9,598.1 L185.9,598.1 L186.9,598.1 L187.9,598.1 L188.9,598.1 L189.9,598.1 L190.9,598.1 L191.9,598.1 L192.9,598.1 L193.9,598.1 L194.9,598.1 L195.9,598.1 L196.9,598.1 L197.9,598.1 L198.9,598.1 L199.9,598.1 L200.9,598.1 L201.9,598.1 L202.9,598.1 L203.9,598.1 L204.9,598.1 L205.9,598.1 L206.9,598.1 L207.9,598.1 L208.9,598.1 L209.9,598.1 L210.9,598.1 L211.9,598.1 L212.9,598.1 L213.9,598.1 L214.9,598.1 L215.9,598.1 L216.9,598.1 L217.9,598.1 L218.9,598.1 L219.9,598.1 L220.9,598.1 L221.9,598.1 L222.9,598.1 L223.9,598.1 L224.9,598.1 L225.9,598.1 L226.9,598.1 L227.9,598.1 L228.9,598.1 L229.9,598.1 L230.9,598.1 L231.9,598.1 L232.9,598.1 L233.9,598.1 L234.9,598.1 L235.9,598.1 L236.9,598.1 L237.9,598.1 L238.9,598.1 L239.9,598.1 L240.9,598.1 L241.9,598.1 L242.9,598.1 L243.9,598.1 L244.9,598.1 L245.9,598.1 L246.9,598.1 L247.9,598.1 L248.9,598.1 L249.9,598.1 L250.9,598.1 L251.9,598.1 L252.9,598.1 L253.9,598.1 L254.9,598.1 L255.9,598.1 L256.9,598.1 L257.9,598.1 L258.9,598.1 L259.9,598.1 L260.9,598.1 L261.9,598.1 L262.9,598.1 L263.9,598.1 L264.9,598.1 L265.9,598.1 L266.9,598.1 L267.9,598.1 L268.9,598.1 L269.9,598.1 L270.9,598.1 L271.9,598.1 L272.9,598.1 L273.9,598.1 L274.9,598.1 L275.9,598.1 L276.9,598.1 L277.9,598.1 L278.9,598.1 L279.9,598.1 L280.9,598.1 L281.9,598.1 L282.9,598.1 L283.9,598.1 L284.9,598.1 L285.9,598.1 L286.9,598.1 L287.9,598.1 L288.9,598.1 L289.9,598.1 L290.9,598.1 L291.9,598.1 L292.9,598.1 L293.9,598.1 L294.9,598.1 L295.9,598.1 L296.9,598.1 L297.9,598.1 L298.9,598.1 L299.9,598.1 L300.9,598.1 L301.9,598.1 L302.9,598.1 L303.9,598.1 L304.9,598.1 L305.9,598.1 L306.9,598.0 L307.9,598.0 L308.9,598.0 L309.9,597.9 L310.9,597.9 L311.9,597.9 L312.9,597.8 L313.9,597.8 L314.9,597.7 L315.9,597.7 L316.9,597.7 L317.9,597.6 L318.9,597.6 L319.9,597.5 L320.9,597.4 L321.9,597.4 L322.9,597.3 L323.9,597.3 L324.9,597.2 L325.9,597.1 L326.9,597.0 L327.9,597.0 L328.9,596.9 L329.9,596.8 L330.9,596.7 L331.9,596.6 L332.9,596.5 L333.9,596.4 L334.9,596.2 L335.9,596.1 L336.9,596.0 L337.9,595.8 L338.9,595.7 L339.9,595.5 L340.9,595.3 L341.9,595.1 L342.9,594.9 L343.9,594.7 L344.9,594.5 L345.9,594.2 L346.9,593.9 L347.9,593.6 L348.9,593.3 L349.9,593.0 L350.9,592.6 L351.9,592.2 L352.9,591.8 L353.9,591.4 L354.9,590.9 L355.9,590.4 L356.9,589.9 L357.9,589.3 L358.9,588.7 L359.9,588.0 L360.9,587.3 L361.9,586.5 L362.9,585.7 L363.9,584.8 L364.9,583.9 L365.9,582.9 L366.9,581.8 L367.9,580.7 L368.9,579.5 L369.9,578.2 L370.9,576.9 L371.9,575.5 L372.9,574.1 L373.9,572.6 L374.9,571.0 L375.9,569.4 L376.9,567.7 L377.9,566.0 L378.9,564.3 L379.9,562.4 L380.9,560.6 L381.9,558.7 L382.9,556.7 L383.9,554.7 L384.9,552.7 L385.9,550.6 L386.9,548.4 L387.9,546.3 L388.9,544.1 L389.9,541.9 L390.9,539.7 L391.9,537.4 L392.9,535.1 L393.9,532.8 L394.9,530.5 L395.9,528.1 L396.9,525.7 L397.9,523.3 L398.9,520.9 L399.9,518.5 L400.9,516.0 L401.9,513.5 L402.9,511.0 L403.9,508.5 L404.9,505.9 L405.9,503.4 L406.9,500.8 L407.9,498.2 L408.9,495.5 L409.9,492.9 L410.9,490.2 L411.9,487.6 L412.9,484.9 L413.9,482.2 L414.9,479.5 L415.9,476.9 L416.9,474.1 L417.9,471.4 L418.9,468.7 L419.9,466.0 L420.9,463.3 L421.9,460.5 L422.9,457.8 L423.9,455.1 L424.9,452.3 L425.9,449.5 L426.9,446.8 L427.9,444.0 L428.9,441.2 L429.9,438.4 L430.9,435.6 L431.9,432.8 L432.9,429.9 L433.9,427.1 L434.9,424.2 L435.9,421.4 L436.9,418.5 L437.9,415.6 L438.9,412.7 L439.9,409.8 L440.9,406.9 L441.9,404.0 L442.9,401.1 L443.9,398.1 L444.9,395.2 L445.9,392.2 L446.9,389.3 L447.9,386.3 L448.9,383.4 L449.9,380.4 L450.9,377.5 L451.9,374.5 L452.9,371.5 L453.9,368.6 L454.9,365.6 L455.9,362.6 L456.9,359.7 L457.9,356.7 L458.9,353.7 L459.9,350.7 L460.9,347.8 L461.9,344.8 L462.9,341.8 L463.9,338.8 L464.9,335.9 L465.9,332.9 L466.9,329.9 L467.9,327.0 L468.9,324.0 L469.9,321.0 L470.9,318.1 L471.9,315.1 L472.9,312.2 L473.9,309.2 L474.9,306.3 L475.9,303.4 L476.9,300.5 L477.9,297.6 L478.9,294.8 L479.9,292.0 L480.9,289.2 L481.9,286.4 L482.9,283.7 L483.9,281.0 L484.9,278.4 L485.9,275.8 L486.9,273.2 L487.9,270.7 L488.9,268.2 L489.9,265.8 L490.9,263.4 L491.9,261.0 L492.9,258.7 L493.9,256.4 L494.9,254.1 L495.9,251.9 L496.9,249.8 L497.9,247.6 L498.9,245.5 L499.9,243.4 L500.9,241.3 L501.9,239.3 L502.9,237.3 L503.9,235.3 L504.9,233.3 L505.9,231.4 L506.9,229.5 L507.9,227.6 L508.9,225.7 L509.9,223.8 L510.9,222.0 L511.9,220.2 L512.9,218.4 L513.9,216.7 L514.9,214.9 L515.9,213.2 L516.9,211.5 L517.9,209.8 L518.9,208.2 L519.9,206.5 L520.9,204.9 L521.9,203.3 L522.9,201.7 L523.9,200.1 L524.9,198.5 L525.9,197.0 L526.9,195.4 L527.9,193.9 L528.9,192.4 L529.9,190.9 L530.9,189.5 L531.9,188.0 L532.9,186.6 L533.9,185.2 L534.9,183.8 L535.9,182.4 L536.9,181.1 L537.9,179.7 L538.9,178.4 L539.9,177.1 L540.9,175.8 L541.9,174.6 L542.9,173.3 L543.9,172.1 L544.9,171.0 L545.9,169.8 L546.9,168.6 L547.9,167.5 L548.9,166.4 L549.9,165.4 L550.9,164.3 L551.9,163.3 L552.9,162.3 L553.9,161.3 L554.9,160.4 L555.9,159.4 L556.9,158.5 L557.9,157.6 L558.9,156.7 L559.9,155.9 L560.9,155.0 L561.9,154.2 L562.9,153.4 L563.9,152.6 L564.9,151.8 L565.9,151.0 L566.9,150.2 L567.9,149.5 L568.9,148.8 L569.9,148.0 L570.9,147.3 L571.9,146.6 L572.9,145.9 L573.9,145.3 L574.9,144.6 L575.9,143.9 L576.9,143.2 L577.9,142.6 L578.9,141.9 L579.9,141.3 L580.9,140.6 L581.9,140.0 L582.9,139.4 L583.9,138.7 L584.9,138.1 L585.9,137.5 L586.9,136.8 L587.9,136.2 L588.9,135.6 L589.9,135.0 L590.9,134.4 L591.9,133.8 L592.9,133.2 L593.9,132.6 L594.9,132.1 L595.9,131.5 L596.9,130.9 L597.9,130.4 L598.9,129.9 L599.9,129.3 L600.9,128.8 L601.9,128.3 L602.9,127.8 L603.9,127.3 L604.9,126.8 L605.9,126.3 L606.9,125.8 L607.9,125.4 L608.9,124.9 L609.9,124.4 L610.9,124.0 L611.9,123.5 L612.9,123.1 L613.9,122.7 L614.9,122.2 L615.9,121.8 L616.9,121.4 L617.9,121.0 L618.9,120.6 L619.9,120.2 L620.9,119.8 L621.9,119.4 L622.9,119.0 L623.9,118.6 L624.9,118.2 L625.9,117.9 L626.9,117.5 L627.9,117.1 L628.9,116.8 L629.9,116.4 L630.9,116.1 L631.9,115.7 L632.9,115.4 L633.9,115.0 L634.9,114.7 L635.9,114.4 L636.9,114.0 L637.9,113.7 L638.9,113.4 L639.9,113.1 L640.9,112.7 L641.9,112.4 L642.9,112.1 L643.9,111.8 L644.9,111.5 L645.9,111.2 L646.9,110.9 L647.9,110.5 L648.9,110.2 L649.9,109.9 L650.9,109.6 L651.9,109.3 L652.3,109.2" stroke="#cc3582"/><path d="M104.9,598.1 L105.9,598.1 L106.9,598.1 L107.9,598.1 L108.9,598.1 L109.9,598.1 L110.9,598.1 L111.9,598.1 L112.9,598.1 L113.9,598.1 L114.9,598.1 L115.9,598.1 L116.9,598.1 L117.9,598.1 L118.9,598.1 L119.9,598.1 L120.9,598.1 L121.9,598.1 L122.9,598.1 L123.9,598.1 L124.9,598.1 L125.9,598.1 L126.9,598.1 L127.9,598.1 L128.9,598.1 L129.9,598.1 L130.9,598.1 L131.9,598.1 L132.9,598.1 L133.9,598.1 L134.9,598.1 L135.9,598.1 L136.9,598.1 L137.9,598.1 L138.9,598.1 L139.9,598.1 L140.9,598.1 L141.9,598.1 L142.9,598.1 L143.9,598.1 L144.9,598.1 L145.9,598.1 L146.9,598.1 L147.9,598.1 L148.9,598.1 L149.9,598.1 L150.9,598.1 L151.9,598.1 L152.9,598.1 L153.9,598.1 L154.9,598.1 L155.9,598.1 L156.9,598.1 L157.9,598.1 L158.9,598.1 L159.9,598.1 L160.9,598.1 L161.9,598.1 L162.9,598.1 L163.9,598.1 L164.9,598.1 L165.9,598.1 L166.9,598.1 L167.9,598.1 L168.9,598.1 L169.9,598.1 L170.9,598.1 L171.9,598.1 L172.9,598.1 L173.9,598.1 L174.9,598.1 L175.9,598.1 L176.9,598.1 L177.9,598.1 L178.9,598.1 L179.9,598.1 L180.9,598.1 L181.9,598.1 L182.9,598.1 L183.9,598.1 L184.9,598.1 L185.9,598.1 L186.9,598.1 L187.9,598.1 L188.9,598.1 L189.9,598.1 L190.9,598.1 L191.9,598.1 L192.9,598.1 L193.9,598.1 L194.9,598.1 L195.9,598.1 L196.9,598.1 L197.9,598.1 L198.9,598.1 L199.9,598.1 L200.9,598.1 L201.9,598.1 L202.9,598.1 L203.9,598.1 L204.9,598.1 L205.9,598.1 L206.9,598.1 L207.9,598.1 L208.9,598.1 L209.9,598.1 L210.9,598.1 L211.9,598.1 L212.9,598.1 L213.9,598.1 L214.9,598.1 L215.9,598.1 L216.9,598.1 L217.9,598.1 L218.9,598.1 L219.9,598.1 L220.9,598.1 L221.9,598.1 L222.9,598.1 L223.9,598.1 L224.9,598.1 L225.9,598.1 L226.9,598.1 L227.9,598.1 L228.9,598.1 L229.9,598.1 L230.9,598.1 L231.9,598.1 L232.9,598.1 L233.9,598.1 L234.9,598.1 L235.9,598.1 L236.9,598.1 L237.9,598.1 L238.9,598.1 L239.9,598.1 L240.9,598.1 L241.9,598.1 L242.9,598.1 L243.9,598.1 L244.9,598.1 L245.9,598.1 L246.9,598.1 L247.9,598.1 L248.9,598.1 L249.9,598.1 L250.9,598.1 L251.9,598.1 L252.9,598.1 L253.9,598.1 L254.9,598.1 L255.9,598.1 L256.9,598.1 L257.9,598.1 L258.9,598.1 L259.9,598.1 L260.9,598.1 L261.9,598.1 L262.9,598.1 L263.9,598.1 L264.9,598.1 L265.9,598.1 L266.9,598.1 L267.9,598.1 L268.9,598.1 L269.9,598.1 L270.9,598.1 L271.9,598.1 L272.9,598.1 L273.9,598.1 L274.9,598.1 L275.9,598.1 L276.9,598.1 L277.9,598.1 L278.9,598.1 L279.9,598.1 L280.9,598.1 L281.9,598.1 L282.9,598.1 L283.9,598.1 L284.9,598.1 L285.9,598.1 L286.9,598.1 L287.9,598.1 L288.9,598.1 L289.9,598.1 L290.9,598.1 L291.9,598.1 L292.9,598.1 L293.9,598.1 L294.9,598.1 L295.9,598.1 L296.9,598.1 L297.9,598.1 L298.9,598.1 L299.9,598.1 L300.9,598.1 L301.9,598.1 L302.9,598.1 L303.9,598.1 L304.9,598.1 L305.9,598.1 L306.9,598.1 L307.9,598.1 L308.9,598.1 L309.9,598.1 L310.9,598.1 L311.9,598.1 L312.9,598.1 L313.9,598.1 L314.9,598.1 L315.9,598.1 L316.9,598.1 L317.9,598.1 L318.9,598.1 L319.9,598.0 L320.9,598.0 L321.9,598.0 L322.9,597.9 L323.9,597.9 L324.9,597.9 L325.9,597.8 L326.9,597.8 L327.9,597.7 L328.9,597.7 L329.9,597.7 L330.9,597.6 L331.9,597.6 L332.9,597.5 L333.9,597.4 L334.9,597.4 L335.9,597.3 L336.9,597.3 L337.9,597.2 L338.9,597.1 L339.9,597.0 L340.9,597.0 L341.9,596.9 L342.9,596.8 L343.9,596.7 L344.9,596.6 L345.9,596.5 L346.9,596.4 L347.9,596.2 L348.9,596.1 L349.9,596.0 L350.9,595.8 L351.9,595.7 L352.9,595.5 L353.9,595.3 L354.9,595.1 L355.9,594.9 L356.9,594.7 L357.9,594.5 L358.9,594.2 L359.9,593.9 L360.9,593.7 L361.9,593.3 L362.9,593.0 L363.9,592.7 L364.9,592.3 L365.9,591.9 L366.9,591.4 L367.9,591.0 L368.9,590.5 L369.9,589.9 L370.9,589.3 L371.9,588.7 L372.9,588.1 L373.9,587.3 L374.9,586.6 L375.9,585.8 L376.9,584.9 L377.9,583.9 L378.9,582.9 L379.9,581.9 L380.9,580.7 L381.9,579.5 L382.9,578.2 L383.9,576.8 L384.9,575.4 L385.9,573.9 L386.9,572.3 L387.9,570.7 L388.9,569.0 L389.9,567.2 L390.9,565.4 L391.9,563.5 L392.9,561.5 L393.9,559.5 L394.9,557.4 L395.9,555.3 L396.9,553.1 L397.9,550.9 L398.9,548.6 L399.9,546.3 L400.9,544.0 L401.9,541.6 L402.9,539.3 L403.9,536.9 L404.9,534.5 L405.9,532.1 L406.9,529.7 L407.9,527.3 L408.9,524.8 L409.9,522.4 L410.9,519.9 L411.9,517.4 L412.9,514.9 L413.9,512.4 L414.9,509.9 L415.9,507.4 L416.9,504.9 L417.9,502.4 L418.9,499.8 L419.9,497.3 L420.9,494.7 L421.9,492.1 L422.9,489.6 L423.9,487.0 L424.9,484.4 L425.9,481.7 L426.9,479.1 L427.9,476.5 L428.9,473.8 L429.9,471.2 L430.9,468.5 L431.9,465.8 L432.9,463.1 L433.9,460.4 L434.9,457.8 L435.9,455.1 L436.9,452.3 L437.9,449.6 L438.9,446.9 L439.9,444.2 L440.9,441.4 L441.9,438.7 L442.9,435.9 L443.9,433.2 L444.9,430.4 L445.9,427.6 L446.9,424.9 L447.9,422.1 L448.9,419.3 L449.9,416.5 L450.9,413.7 L451.9,410.9 L452.9,408.1 L453.9,405.3 L454.9,402.5 L455.9,399.7 L456.9,396.8 L457.9,394.0 L458.9,391.2 L459.9,388.4 L460.9,385.6 L461.9,382.7 L462.9,379.9 L463.9,377.1 L464.9,374.3 L465.9,371.5 L466.9,368.6 L467.9,365.8 L468.9,363.0 L469.9,360.2 L470.9,357.4 L471.9,354.7 L472.9,351.9 L473.9,349.1 L474.9,346.4 L475.9,343.7 L476.9,341.0 L477.9,338.3 L478.9,335.6 L479.9,332.9 L480.9,330.3 L481.9,327.6 L482.9,325.0 L483.9,322.5 L484.9,319.9 L485.9,317.3 L486.9,314.8 L487.9,312.3 L488.9,309.8 L489.9,307.2 L490.9,304.7 L491.9,302.2 L492.9,299.7 L493.9,297.2 L494.9,294.6 L495.9,292.1 L496.9,289.5 L497.9,287.0 L498.9,284.4 L499.9,281.8 L500.9,279.2 L501.9,276.5 L502.9,273.9 L503.9,271.2 L504.9,268.6 L505.9,265.9 L506.9,263.2 L507.9,260.6 L508.9,257.9 L509.9,255.3 L510.9,252.7 L511.9,250.1 L512.9,247.5 L513.9,245.0 L514.9,242.5 L515.9,240.0 L516.9,237.6 L517.9,235.2 L518.9,232.9 L519.9,230.6 L520.9,228.3 L521.9,226.1 L522.9,223.8 L523.9,221.6 L524.9,219.5 L525.9,217.3 L526.9,215.2 L527.9,213.1 L528.9,211.1 L529.9,209.0 L530.9,207.0 L531.9,205.1 L532.9,203.1 L533.9,201.2 L534.9,199.3 L535.9,197.5 L536.9,195.7 L537.9,194.0 L538.9,192.2 L539.9,190.6 L540.9,188.9 L541.9,187.4 L542.9,185.8 L543.9,184.3 L544.9,182.9 L545.9,181.5 L546.9,180.1 L547.9,178.8 L548.9,177.5 L549.9,176.3 L550.9,175.1 L551.9,173.9 L552.9,172.7 L553.9,171.6 L554.9,170.5 L555.9,169.5 L556.9,168.4 L557.9,167.4 L558.9,166.4 L559.9,165.5 L560.9,164.5 L561.9,163.6 L562.9,162.7 L563.9,161.8 L564.9,160.9 L565.9,160.1 L566.9,159.2 L567.9,158.4 L568.9,157.6 L569.9,156.9 L570.9,156.1 L571.9,155.3 L572.9,154.6 L573.9,153.9 L574.9,153.2 L575.9,152.5 L576.9,151.9 L577.9,151.2 L578.9,150.6 L579.9,149.9 L580.9,149.3 L581.9,148.7 L582.9,148.1 L583.9,147.6 L584.9,147.0 L585.9,146.4 L586.9,145.9 L587.9,145.4 L588.9,144.9 L589.9,144.4 L590.9,143.9 L591.9,143.4 L592.9,142.9 L593.9,142.4 L594.9,142.0 L595.9,141.5 L596.9,141.1 L597.9,140.7 L598.9,140.3 L599.9,139.8 L600.9,139.4 L601.9,139.0 L602.9,138.7 L603.9,138.3 L604.9,137.9 L605.9,137.5 L606.9,137.2 L607.9,136.8 L608.9,136.5 L609.9,136.1 L610.9,135.8 L611.9,135.5 L612.9,135.1 L613.9,134.8 L614.9,134.5 L615.9,134.2 L616.9,133.9 L617.9,133.6 L618.9,133.3 L619.9,133.0 L620.9,132.7 L621.9,132.4 L622.9,132.1 L623.9,131.9 L624.9,131.6 L625.9,131.3 L626.9,131.1 L627.9,130.8 L628.9,130.5 L629.9,130.3 L630.9,130.0 L631.9,129.8 L632.9,129.5 L633.9,129.3 L634.9,129.0 L635.9,128.8 L636.9,128.6 L637.9,128.3 L638.9,128.1 L639.9,127.9 L640.9,127.6 L641.9,127.4 L642.9,127.2 L643.9,126.9 L644.9,126.7 L645.9,126.5 L646.9,126.2 L647.9,126.0 L648.9,125.8 L649.9,125.6 L650.9,125.4 L651.9,125.1 L652.3,125.0" stroke="#cc3582"/><path d="M104.9,598.1 L105.9,598.1 L106.9,598.1 L107.9,598.1 L108.9,598.1 L109.9,598.1 L110.9,598.1 L111.9,598.1 L112.9,598.1 L113.9,598.1 L114.9,598.1 L115.9,598.1 L116.9,598.1 L117.9,598.1 L118.9,598.1 L119.9,598.1 L120.9,598.1 L121.9,598.1 L122.9,598.1 L123.9,598.1 L124.9,598.1 L125.9,598.1 L126.9,598.1 L127.9,598.1 L128.9,598.1 L129.9,598.1 L130.9,598.1 L131.9,598.1 L132.9,598.1 L133.9,598.1 L134.9,598.1 L135.9,598.1 L136.9,598.1 L137.9,598.1 L138.9,598.1 L139.9,598.1 L140.9,598.1 L141.9,598.1 L142.9,598.1 L143.9,598.1 L144.9,598.1 L145.9,598.1 L146.9,598.1 L147.9,598.1 L148.9,598.1 L149.9,598.1 L150.9,598.1 L151.9,598.1 L152.9,598.1 L153.9,598.1 L154.9,598.1 L155.9,598.1 L156.9,598.1 L157.9,598.1 L158.9,598.1 L159.9,598.1 L160.9,598.1 L161.9,598.1 L162.9,598.1 L163.9,598.1 L164.9,598.1 L165.9,598.1 L166.9,598.1 L167.9,598.1 L168.9,598.1 L169.9,598.1 L170.9,598.1 L171.9,598.1 L172.9,598.1 L173.9,598.1 L174.9,598.1 L175.9,598.1 L176.9,598.1 L177.9,598.1 L178.9,598.1 L179.9,598.1 L180.9,598.1 L181.9,598.1 L182.9,598.1 L183.9,598.1 L184.9,598.1 L185.9,598.1 L186.9,598.1 L187.9,598.1 L188.9,598.1 L189.9,598.1 L190.9,598.1 L191.9,598.1 L192.9,598.1 L193.9,598.1 L194.9,598.1 L195.9,598.1 L196.9,598.1 L197.9,598.1 L198.9,598.1 L199.9,598.1 L200.9,598.1 L201.9,598.1 L202.9,598.1 L203.9,598.1 L204.9,598.1 L205.9,598.1 L206.9,598.1 L207.9,598.1 L208.9,598.1 L209.9,598.1 L210.9,598.1 L211.9,598.1 L212.9,598.1 L213.9,598.1 L214.9,598.1 L215.9,598.1 L216.9,598.1 L217.9,598.1 L218.9,598.1 L219.9,598.1 L220.9,598.1 L221.9,598.1 L222.9,598.1 L223.9,598.1 L224.9,598.1 L225.9,598.1 L226.9,598.1 L227.9,598.1 L228.9,598.1 L229.9,598.1 L230.9,598.1 L231.9,598.1 L232.9,598.1 L233.9,598.1 L234.9,598.1 L235.9,598.1 L236.9,598.1 L237.9,598.1 L238.9,598.1 L239.9,598.1 L240.9,598.1 L241.9,598.1 L242.9,598.1 L243.9,598.1 L244.9,598.1 L245.9,598.1 L246.9,598.1 L247.9,598.1 L248.9,598.1 L249.9,598.1 L250.9,598.1 L251.9,598.1 L252.9,598.1 L253.9,598.1 L254.9,598.1 L255.9,598.1 L256.9,598.1 L257.9,598.1 L258.9,598.1 L259.9,598.1 L260.9,598.1 L261.9,598.1 L262.9,598.0 L263.9,598.0 L264.9,598.0 L265.9,597.9 L266.9,597.9 L267.9,597.9 L268.9,597.8 L269.9,597.8 L270.9,597.7 L271.9,597.7 L272.9,597.6 L273.9,597.6 L274.9,597.5 L275.9,597.5 L276.9,597.4 L277.9,597.4 L278.9,597.3 L279.9,597.2 L280.9,597.2 L281.9,597.1 L282.9,597.0 L283.9,596.9 L284.9,596.9 L285.9,596.8 L286.9,596.7 L287.9,596.6 L288.9,596.5 L289.9,596.4 L290.9,596.3 L291.9,596.2 L292.9,596.1 L293.9,596.0 L294.9,595.8 L295.9,595.7 L296.9,595.6 L297.9,595.4 L298.9,595.3 L299.9,595.1 L300.9,595.0 L301.9,594.8 L302.9,594.6 L303.9,594.4 L304.9,594.2 L305.9,594.0 L306.9,593.8 L307.9,593.6 L308.9,593.3 L309.9,593.1 L310.9,592.8 L311.9,592.5 L312.9,592.2 L313.9,591.9 L314.9,591.6 L315.9,591.3 L316.9,591.0 L317.9,590.6 L318.9,590.2 L319.9,589.9 L320.9,589.5 L321.9,589.1 L322.9,588.6 L323.9,588.2 L324.9,587.7 L325.9,587.3 L326.9,586.8 L327.9,586.3 L328.9,585.7 L329.9,585.2 L330.9,584.7 L331.9,584.1 L332.9,583.5 L333.9,582.9 L334.9,582.3 L335.9,581.7 L336.9,581.0 L337.9,580.3 L338.9,579.6 L339.9,578.9 L340.9,578.2 L341.9,577.4 L342.9,576.6 L343.9,575.8 L344.9,574.9 L345.9,574.1 L346.9,573.1 L347.9,572.2 L348.9,571.2 L349.9,570.2 L350.9,569.2 L351.9,568.1 L352.9,567.0 L353.9,565.9 L354.9,564.7 L355.9,563.5 L356.9,562.2 L357.9,561.0 L358.9,559.7 L359.9,558.3 L360.9,556.9 L361.9,555.5 L362.9,554.1 L363.9,552.6 L364.9,551.1 L365.9,549.6 L366.9,548.0 L367.9,546.4 L368.9,544.8 L369.9,543.1 L370.9,541.4 L371.9,539.7 L372.9,538.0 L373.9,536.2 L374.9,534.4 L375.9,532.6 L376.9,530.7 L377.9,528.8 L378.9,526.9 L379.9,525.0 L380.9,523.0 L381.9,521.1 L382.9,519.0 L383.9,517.0 L384.9,514.9 L385.9,512.8 L386.9,510.7 L387.9,508.5 L388.9,506.3 L389.9,504.1 L390.9,501.9 L391.9,499.6 L392.9,497.3 L393.9,495.0 L394.9,492.6 L395.9,490.3 L396.9,487.9 L397.9,485.5 L398.9,483.0 L399.9,480.6 L400.9,478.1 L401.9,475.6 L402.9,473.1 L403.9,470.5 L404.9,468.0 L405.9,465.5 L406.9,462.9 L407.9,460.3 L408.9,457.8 L409.9,455.2 L410.9,452.6 L411.9,450.0 L412.9,447.4 L413.9,444.9 L414.9,442.3 L415.9,439.7 L416.9,437.2 L417.9,434.6 L418.9,432.1 L419.9,429.6 L420.9,427.1 L421.9,424.6 L422.9,422.1 L423.9,419.7 L424.9,417.2 L425.9,414.8 L426.9,412.4 L427.9,410.0 L428.9,407.6 L429.9,405.2 L430.9,402.8 L431.9,400.4 L432.9,398.0 L433.9,395.7 L434.9,393.3 L435.9,391.0 L436.9,388.6 L437.9,386.3 L438.9,383.9 L439.9,381.6 L440.9,379.3 L441.9,376.9 L442.9,374.6 L443.9,372.2 L444.9,369.9 L445.9,367.5 L446.9,365.2 L447.9,362.8 L448.9,360.5 L449.9,358.2 L450.9,355.8 L451.9,353.5 L452.9,351.2 L453.9,348.9 L454.9,346.6 L455.9,344.3 L456.9,342.0 L457.9,339.7 L458.9,337.4 L459.9,335.1 L460.9,332.9 L461.9,330.6 L462.9,328.4 L463.9,326.2 L464.9,324.0 L465.9,321.8 L466.9,319.6 L467.9,317.4 L468.9,315.2 L469.9,313.1 L470.9,311.0 L471.9,308.8 L472.9,306.7 L473.9,304.6 L474.9,302.5 L475.9,300.5 L476.9,298.4 L477.9,296.4 L478.9,294.3 L479.9,292.3 L480.9,290.3 L481.9,288.3 L482.9,286.3 L483.9,284.4 L484.9,282.4 L485.9,280.5 L486.9,278.6 L487.9,276.8 L488.9,274.9 L489.9,273.1 L490.9,271.4 L491.9,269.6 L492.9,267.9 L493.9,266.2 L494.9,264.5 L495.9,262.9 L496.9,261.2 L497.9,259.6 L498.9,258.0 L499.9,256.4 L500.9,254.8 L501.9,253.2 L502.9,251.6 L503.9,250.1 L504.9,248.5 L505.9,246.9 L506.9,245.3 L507.9,243.7 L508.9,242.1 L509.9,240.5 L510.9,238.9 L511.9,237.2 L512.9,235.6 L513.9,234.0 L514.9,232.4 L515.9,230.7 L516.9,229.1 L517.9,227.5 L518.9,225.8 L519.9,224.2 L520.9,222.6 L521.9,220.9 L522.9,219.3 L523.9,217.7 L524.9,216.1 L525.9,214.5 L526.9,212.9 L527.9,211.3 L528.9,209.7 L529.9,208.1 L530.9,206.6 L531.9,205.0 L532.9,203.5 L533.9,202.0 L534.9,200.5 L535.9,199.0 L536.9,197.6 L537.9,196.1 L538.9,194.7 L539.9,193.3 L540.9,192.0 L541.9,190.6 L542.9,189.3 L543.9,188.0 L544.9,186.7 L545.9,185.5 L546.9,184.2 L547.9,183.0 L548.9,181.9 L549.9,180.7 L550.9,179.6 L551.9,178.5 L552.9,177.4 L553.9,176.3 L554.9,175.3 L555.9,174.2 L556.9,173.2 L557.9,172.2 L558.9,171.2 L559.9,170.2 L560.9,169.3 L561.9,168.3 L562.9,167.4 L563.9,166.5 L564.9,165.6 L565.9,164.7 L566.9,163.8 L567.9,162.9 L568.9,162.1 L569.9,161.2 L570.9,160.3 L571.9,159.5 L572.9,158.6 L573.9,157.8 L574.9,156.9 L575.9,156.1 L576.9,155.2 L577.9,154.4 L578.9,153.5 L579.9,152.7 L580.9,151.8 L581.9,151.0 L582.9,150.1 L583.9,149.3 L584.9,148.4 L585.9,147.6 L586.9,146.7 L587.9,145.8 L588.9,145.0 L589.9,144.1 L590.9,143.2 L591.9,142.3 L592.9,141.5 L593.9,140.6 L594.9,139.7 L595.9,138.8 L596.9,137.9 L597.9,137.0 L598.9,136.1 L599.9,135.2 L600.9,134.3 L601.9,133.4 L602.9,132.5 L603.9,131.5 L604.9,130.6 L605.9,129.7 L606.9,128.8 L607.9,127.8 L608.9,126.9 L609.9,125.9 L610.9,125.0 L611.9,124.1 L612.9,123.1 L613.9,122.2 L614.9,121.2 L615.9,120.2 L616.9,119.3 L617.9,118.3 L618.9,117.3 L619.9,116.4 L620.9,115.4 L621.9,114.4 L622.9,113.4 L623.9,112.4 L624.9,111.4 L625.9,110.5 L626.9,109.5 L627.9,108.5 L628.9,107.5 L629.9,106.5 L630.9,105.4 L631.9,104.4 L632.9,103.4 L633.9,102.4 L634.9,101.4 L635.9,100.4 L636.9,99.4 L637.9,98.3 L638.9,97.3 L639.9,96.3 L640.9,95.2 L641.9,94.2 L642.9,93.2 L643.9,92.1 L644.9,91.1 L645.9,90.0 L646.9,89.0 L647.9,87.9 L648.9,86.9 L649.9,85.8 L650.9,84.8 L651.9,83.7 L652.3,83.3" stroke="#2a2462"/><path d="M104.9,598.1 L105.9,598.1 L106.9,598.1 L107.9,598.1 L108.9,598.1 L109.9,598.1 L110.9,598.1 L111.9,598.1 L112.9,598.1 L113.9,598.1 L114.9,598.1 L115.9,598.1 L116.9,598.1 L117.9,598.1 L118.9,598.1 L119.9,598.1 L120.9,598.1 L121.9,598.1 L122.9,598.1 L123.9,598.1 L124.9,598.1 L125.9,598.1 L126.9,598.1 L127.9,598.1 L128.9,598.1 L129.9,598.1 L130.9,598.1 L131.9,598.1 L132.9,598.1 L133.9,598.1 L134.9,598.1 L135.9,598.1 L136.9,598.1 L137.9,598.1 L138.9,598.1 L139.9,598.1 L140.9,598.1 L141.9,598.1 L142.9,598.1 L143.9,598.1 L144.9,598.1 L145.9,598.1 L146.9,598.1 L147.9,598.1 L148.9,598.1 L149.9,598.1 L150.9,598.1 L151.9,598.1 L152.9,598.1 L153.9,598.1 L154.9,598.1 L155.9,598.1 L156.9,598.1 L157.9,598.1 L158.9,598.1 L159.9,598.1 L160.9,598.1 L161.9,598.1 L162.9,598.1 L163.9,598.1 L164.9,598.1 L165.9,598.1 L166.9,598.1 L167.9,598.1 L168.9,598.1 L169.9,598.1 L170.9,598.1 L171.9,598.1 L172.9,598.1 L173.9,598.1 L174.9,598.1 L175.9,598.1 L176.9,598.1 L177.9,598.1 L178.9,598.1 L179.9,598.1 L180.9,598.1 L181.9,598.1 L182.9,598.1 L183.9,598.1 L184.9,598.1 L185.9,598.1 L186.9,598.1 L187.9,598.1 L188.9,598.1 L189.9,598.1 L190.9,598.1 L191.9,598.1 L192.9,598.1 L193.9,598.1 L194.9,598.1 L195.9,598.1 L196.9,598.1 L197.9,598.1 L198.9,598.1 L199.9,598.1 L200.9,598.1 L201.9,598.1 L202.9,598.1 L203.9,598.1 L204.9,598.1 L205.9,598.1 L206.9,598.1 L207.9,598.1 L208.9,598.1 L209.9,598.1 L210.9,598.1 L211.9,598.1 L212.9,598.1 L213.9,598.1 L214.9,598.1 L215.9,598.1 L216.9,598.1 L217.9,598.1 L218.9,598.1 L219.9,598.1 L220.9,598.1 L221.9,598.1 L222.9,598.1 L223.9,598.1 L224.9,598.1 L225.9,598.1 L226.9,598.1 L227.9,598.1 L228.9,598.1 L229.9,598.1 L230.9,598.1 L231.9,598.1 L232.9,598.1 L233.9,598.1 L234.9,598.1 L235.9,598.1 L236.9,598.1 L237.9,598.1 L238.9,598.1 L239.9,598.1 L240.9,598.1 L241.9,598.1 L242.9,598.1 L243.9,598.1 L244.9,598.1 L245.9,598.1 L246.9,598.1 L247.9,598.1 L248.9,598.1 L249.9,598.1 L250.9,598.1 L251.9,598.1 L252.9,598.1 L253.9,598.1 L254.9,598.1 L255.9,598.1 L256.9,598.1 L257.9,598.1 L258.9,598.1 L259.9,598.1 L260.9,598.1 L261.9,598.1 L262.9,598.1 L263.9,598.0 L264.9,598.0 L265.9,598.0 L266.9,597.9 L267.9,597.9 L268.9,597.9 L269.9,597.8 L270.9,597.8 L271.9,597.7 L272.9,597.7 L273.9,597.6 L274.9,597.6 L275.9,597.5 L276.9,597.5 L277.9,597.4 L278.9,597.4 L279.9,597.3 L280.9,597.2 L281.9,597.2 L282.9,597.1 L283.9,597.0 L284.9,597.0 L285.9,596.9 L286.9,596.8 L287.9,596.7 L288.9,596.6 L289.9,596.5 L290.9,596.5 L291.9,596.4 L292.9,596.2 L293.9,596.1 L294.9,596.0 L295.9,595.9 L296.9,595.8 L297.9,595.6 L298.9,595.5 L299.9,595.3 L300.9,595.2 L301.9,595.0 L302.9,594.9 L303.9,594.7 L304.9,594.5 L305.9,594.3 L306.9,594.1 L307.9,593.9 L308.9,593.6 L309.9,593.4 L310.9,593.2 L311.9,592.9 L312.9,592.6 L313.9,592.3 L314.9,592.0 L315.9,591.7 L316.9,591.4 L317.9,591.1 L318.9,590.7 L319.9,590.4 L320.9,590.0 L321.9,589.6 L322.9,589.2 L323.9,588.8 L324.9,588.4 L325.9,587.9 L326.9,587.5 L327.9,587.0 L328.9,586.5 L329.9,586.0 L330.9,585.5 L331.9,585.0 L332.9,584.4 L333.9,583.8 L334.9,583.2 L335.9,582.6 L336.9,582.0 L337.9,581.4 L338.9,580.7 L339.9,580.0 L340.9,579.3 L341.9,578.6 L342.9,577.8 L343.9,577.0 L344.9,576.2 L345.9,575.3 L346.9,574.4 L347.9,573.5 L348.9,572.5 L349.9,571.5 L350.9,570.5 L351.9,569.4 L352.9,568.3 L353.9,567.2 L354.9,566.0 L355.9,564.8 L356.9,563.5 L357.9,562.2 L358.9,560.9 L359.9,559.5 L360.9,558.1 L361.9,556.7 L362.9,555.2 L363.9,553.7 L364.9,552.1 L365.9,550.6 L366.9,548.9 L367.9,547.3 L368.9,545.6 L369.9,543.9 L370.9,542.2 L371.9,540.4 L372.9,538.7 L373.9,536.9 L374.9,535.0 L375.9,533.2 L376.9,531.3 L377.9,529.4 L378.9,527.5 L379.9,525.6 L380.9,523.7 L381.9,521.7 L382.9,519.8 L383.9,517.8 L384.9,515.8 L385.9,513.8 L386.9,511.8 L387.9,509.8 L388.9,507.8 L389.9,505.7 L390.9,503.7 L391.9,501.7 L392.9,499.7 L393.9,497.6 L394.9,495.6 L395.9,493.6 L396.9,491.5 L397.9,489.5 L398.9,487.5 L399.9,485.5 L400.9,483.4 L401.9,481.4 L402.9,479.4 L403.9,477.3 L404.9,475.3 L405.9,473.3 L406.9,471.3 L407.9,469.3 L408.9,467.2 L409.9,465.2 L410.9,463.2 L411.9,461.1 L412.9,459.1 L413.9,457.1 L414.9,455.0 L415.9,453.0 L416.9,450.9 L417.9,448.9 L418.9,446.8 L419.9,444.7 L420.9,442.6 L421.9,440.5 L422.9,438.3 L423.9,436.2 L424.9,434.0 L425.9,431.8 L426.9,429.6 L427.9,427.4 L428.9,425.1 L429.9,422.8 L430.9,420.6 L431.9,418.3 L432.9,416.0 L433.9,413.6 L434.9,411.3 L435.9,408.9 L436.9,406.6 L437.9,404.2 L438.9,401.8 L439.9,399.4 L440.9,397.0 L441.9,394.6 L442.9,392.2 L443.9,389.8 L444.9,387.4 L445.9,385.0 L446.9,382.6 L447.9,380.2 L448.9,377.8 L449.9,375.4 L450.9,373.0 L451.9,370.6 L452.9,368.2 L453.9,365.8 L454.9,363.4 L455.9,361.1 L456.9,358.7 L457.9,356.3 L458.9,354.0 L459.9,351.6 L460.9,349.3 L461.9,346.9 L462.9,344.6 L463.9,342.3 L464.9,339.9 L465.9,337.6 L466.9,335.3 L467.9,333.0 L468.9,330.7 L469.9,328.4 L470.9,326.1 L471.9,323.8 L472.9,321.6 L473.9,319.3 L474.9,317.0 L475.9,314.8 L476.9,312.5 L477.9,310.3 L478.9,308.0 L479.9,305.8 L480.9,303.5 L481.9,301.3 L482.9,299.0 L483.9,296.8 L484.9,294.5 L485.9,292.3 L486.9,290.0 L487.9,287.7 L488.9,285.5 L489.9,283.2 L490.9,280.9 L491.9,278.7 L492.9,276.4 L493.9,274.2 L494.9,272.0 L495.9,269.7 L496.9,267.5 L497.9,265.4 L498.9,263.2 L499.9,261.1 L500.9,259.0 L501.9,256.9 L502.9,254.8 L503.9,252.8 L504.9,250.8 L505.9,248.8 L506.9,246.9 L507.9,245.0 L508.9,243.1 L509.9,241.3 L510.9,239.5 L511.9,237.8 L512.9,236.0 L513.9,234.4 L514.9,232.7 L515.9,231.1 L516.9,229.6 L517.9,228.0 L518.9,226.6 L519.9,225.1 L520.9,223.7 L521.9,222.3 L522.9,221.0 L523.9,219.7 L524.9,218.5 L525.9,217.2 L526.9,216.0 L527.9,214.8 L528.9,213.7 L529.9,212.5 L530.9,211.4 L531.9,210.3 L532.9,209.2 L533.9,208.1 L534.9,207.0 L535.9,205.9 L536.9,204.8 L537.9,203.6 L538.9,202.5 L539.9,201.4 L540.9,200.2 L541.9,199.0 L542.9,197.9 L543.9,196.7 L544.9,195.5 L545.9,194.3 L546.9,193.1 L547.9,191.8 L548.9,190.6 L549.9,189.4 L550.9,188.1 L551.9,186.9 L552.9,185.6 L553.9,184.4 L554.9,183.1 L555.9,181.8 L556.9,180.6 L557.9,179.3 L558.9,178.0 L559.9,176.8 L560.9,175.5 L561.9,174.3 L562.9,173.0 L563.9,171.8 L564.9,170.6 L565.9,169.3 L566.9,168.1 L567.9,166.9 L568.9,165.8 L569.9,164.6 L570.9,163.5 L571.9,162.3 L572.9,161.2 L573.9,160.2 L574.9,159.1 L575.9,158.1 L576.9,157.1 L577.9,156.1 L578.9,155.1 L579.9,154.2 L580.9,153.2 L581.9,152.3 L582.9,151.4 L583.9,150.6 L584.9,149.7 L585.9,148.9 L586.9,148.1 L587.9,147.3 L588.9,146.6 L589.9,145.8 L590.9,145.1 L591.9,144.4 L592.9,143.7 L593.9,143.1 L594.9,142.4 L595.9,141.8 L596.9,141.3 L597.9,140.7 L598.9,140.1 L599.9,139.6 L600.9,139.1 L601.9,138.6 L602.9,138.1 L603.9,137.6 L604.9,137.2 L605.9,136.7 L606.9,136.3 L607.9,135.9 L608.9,135.4 L609.9,135.0 L610.9,134.6 L611.9,134.2 L612.9,133.8 L613.9,133.4 L614.9,133.0 L615.9,132.6 L616.9,132.3 L617.9,131.9 L618.9,131.5 L619.9,131.1 L620.9,130.7 L621.9,130.3 L622.9,130.0 L623.9,129.6 L624.9,129.2 L625.9,128.8 L626.9,128.5 L627.9,128.1 L628.9,127.7 L629.9,127.4 L630.9,127.0 L631.9,126.6 L632.9,126.3 L633.9,125.9 L634.9,125.6 L635.9,125.2 L636.9,124.8 L637.9,124.5 L638.9,124.1 L639.9,123.8 L640.9,123.4 L641.9,123.1 L642.9,122.7 L643.9,122.3 L644.9,122.0 L645.9,121.6 L646.9,121.3 L647.9,120.9 L648.9,120.6 L649.9,120.2 L650.9,119.9 L651.9,119.5 L652.3,119.4" stroke="#2a2462"/><path d="M104.9,598.1 L105.9,598.1 L106.9,598.1 L107.9,598.1 L108.9,598.1 L109.9,598.1 L110.9,598.1 L111.9,598.1 L112.9,598.1 L113.9,598.1 L114.9,598.1 L115.9,598.1 L116.9,598.1 L117.9,598.1 L118.9,598.1 L119.9,598.1 L120.9,598.1 L121.9,598.1 L122.9,598.1 L123.9,598.1 L124.9,598.1 L125.9,598.1 L126.9,598.1 L127.9,598.1 L128.9,598.1 L129.9,598.1 L130.9,598.1 L131.9,598.1 L132.9,598.1 L133.9,598.1 L134.9,598.1 L135.9,598.1 L136.9,598.1 L137.9,598.1 L138.9,598.1 L139.9,598.1 L140.9,598.1 L141.9,598.1 L142.9,598.1 L143.9,598.1 L144.9,598.1 L145.9,598.1 L146.9,598.1 L147.9,598.1 L148.9,598.1 L149.9,598.1 L150.9,598.1 L151.9,598.1 L152.9,598.1 L153.9,598.1 L154.9,598.1 L155.9,598.1 L156.9,598.1 L157.9,598.1 L158.9,598.1 L159.9,598.1 L160.9,598.1 L161.9,598.1 L162.9,598.1 L163.9,598.1 L164.9,598.1 L165.9,598.1 L166.9,598.1 L167.9,598.1 L168.9,598.1 L169.9,598.1 L170.9,598.1 L171.9,598.1 L172.9,598.1 L173.9,598.1 L174.9,598.1 L175.9,598.1 L176.9,598.1 L177.9,598.1 L178.9,598.1 L179.9,598.1 L180.9,598.1 L181.9,598.1 L182.9,598.1 L183.9,598.1 L184.9,598.1 L185.9,598.1 L186.9,598.1 L187.9,598.1 L188.9,598.1 L189.9,598.1 L190.9,598.1 L191.9,598.1 L192.9,598.1 L193.9,598.1 L194.9,598.1 L195.9,598.1 L196.9,598.1 L197.9,598.1 L198.9,598.1 L199.9,598.1 L200.9,598.1 L201.9,598.1 L202.9,598.1 L203.9,598.1 L204.9,598.1 L205.9,598.1 L206.9,598.1 L207.9,598.1 L208.9,598.1 L209.9,598.1 L210.9,598.1 L211.9,598.1 L212.9,598.1 L213.9,598.1 L214.9,598.1 L215.9,598.1 L216.9,598.1 L217.9,598.1 L218.9,598.1 L219.9,598.1 L220.9,598.1 L221.9,598.1 L222.9,598.1 L223.9,598.1 L224.9,598.1 L225.9,598.1 L226.9,598.1 L227.9,598.1 L228.9,598.1 L229.9,598.1 L230.9,598.1 L231.9,598.1 L232.9,598.1 L233.9,598.1 L234.9,598.1 L235.9,598.1 L236.9,598.1 L237.9,598.1 L238.9,598.1 L239.9,598.1 L240.9,598.1 L241.9,598.1 L242.9,598.1 L243.9,598.1 L244.9,598.1 L245.9,598.1 L246.9,598.1 L247.9,598.1 L248.9,598.1 L249.9,598.1 L250.9,598.1 L251.9,598.1 L252.9,598.1 L253.9,598.1 L254.9,598.1 L255.9,598.1 L256.9,598.1 L257.9,598.1 L258.9,598.1 L259.9,598.1 L260.9,598.1 L261.9,598.1 L262.9,598.1 L263.9,598.0 L264.9,598.0 L265.9,598.0 L266.9,598.0 L267.9,597.9 L268.9,597.9 L269.9,597.9 L270.9,597.8 L271.9,597.8 L272.9,597.7 L273.9,597.7 L274.9,597.6 L275.9,597.6 L276.9,597.6 L277.9,597.5 L278.9,597.5 L279.9,597.4 L280.9,597.3 L281.9,597.3 L282.9,597.2 L283.9,597.2 L284.9,597.1 L285.9,597.0 L286.9,596.9 L287.9,596.9 L288.9,596.8 L289.9,596.7 L290.9,596.6 L291.9,596.5 L292.9,596.4 L293.9,596.3 L294.9,596.2 L295.9,596.1 L296.9,596.0 L297.9,595.8 L298.9,595.7 L299.9,595.6 L300.9,595.4 L301.9,595.3 L302.9,595.1 L303.9,594.9 L304.9,594.8 L305.9,594.6 L306.9,594.4 L307.9,594.2 L308.9,594.0 L309.9,593.7 L310.9,593.5 L311.9,593.3 L312.9,593.0 L313.9,592.7 L314.9,592.5 L315.9,592.2 L316.9,591.9 L317.9,591.6 L318.9,591.2 L319.9,590.9 L320.9,590.6 L321.9,590.2 L322.9,589.8 L323.9,589.4 L324.9,589.0 L325.9,588.6 L326.9,588.2 L327.9,587.7 L328.9,587.3 L329.9,586.8 L330.9,586.3 L331.9,585.8 L332.9,585.3 L333.9,584.7 L334.9,584.2 L335.9,583.6 L336.9,583.0 L337.9,582.4 L338.9,581.8 L339.9,581.1 L340.9,580.4 L341.9,579.7 L342.9,578.9 L343.9,578.2 L344.9,577.4 L345.9,576.5 L346.9,575.7 L347.9,574.7 L348.9,573.8 L349.9,572.8 L350.9,571.8 L351.9,570.7 L352.9,569.6 L353.9,568.5 L354.9,567.3 L355.9,566.1 L356.9,564.9 L357.9,563.6 L358.9,562.2 L359.9,560.8 L360.9,559.4 L361.9,558.0 L362.9,556.5 L363.9,555.0 L364.9,553.4 L365.9,551.8 L366.9,550.2 L367.9,548.5 L368.9,546.8 L369.9,545.1 L370.9,543.4 L371.9,541.6 L372.9,539.8 L373.9,538.1 L374.9,536.2 L375.9,534.4 L376.9,532.6 L377.9,530.7 L378.9,528.9 L379.9,527.0 L380.9,525.1 L381.9,523.2 L382.9,521.3 L383.9,519.4 L384.9,517.5 L385.9,515.6 L386.9,513.7 L387.9,511.8 L388.9,509.9 L389.9,508.0 L390.9,506.1 L391.9,504.2 L392.9,502.2 L393.9,500.3 L394.9,498.4 L395.9,496.5 L396.9,494.6 L397.9,492.6 L398.9,490.7 L399.9,488.7 L400.9,486.7 L401.9,484.8 L402.9,482.8 L403.9,480.8 L404.9,478.8 L405.9,476.7 L406.9,474.7 L407.9,472.7 L408.9,470.6 L409.9,468.6 L410.9,466.5 L411.9,464.4 L412.9,462.3 L413.9,460.2 L414.9,458.1 L415.9,455.9 L416.9,453.8 L417.9,451.7 L418.9,449.5 L419.9,447.3 L420.9,445.1 L421.9,442.9 L422.9,440.7 L423.9,438.5 L424.9,436.2 L425.9,434.0 L426.9,431.7 L427.9,429.4 L428.9,427.1 L429.9,424.8 L430.9,422.5 L431.9,420.2 L432.9,417.9 L433.9,415.5 L434.9,413.2 L435.9,410.8 L436.9,408.5 L437.9,406.1 L438.9,403.7 L439.9,401.4 L440.9,399.0 L441.9,396.6 L442.9,394.3 L443.9,391.9 L444.9,389.5 L445.9,387.2 L446.9,384.9 L447.9,382.5 L448.9,380.2 L449.9,377.9 L450.9,375.6 L451.9,373.3 L452.9,371.0 L453.9,368.7 L454.9,366.5 L455.9,364.2 L456.9,362.0 L457.9,359.8 L458.9,357.6 L459.9,355.4 L460.9,353.2 L461.9,351.0 L462.9,348.9 L463.9,346.8 L464.9,344.7 L465.9,342.6 L466.9,340.5 L467.9,338.4 L468.9,336.4 L469.9,334.4 L470.9,332.3 L471.9,330.3 L472.9,328.4 L473.9,326.4 L474.9,324.5 L475.9,322.6 L476.9,320.7 L477.9,318.8 L478.9,316.9 L479.9,315.0 L480.9,313.2 L481.9,311.3 L482.9,309.5 L483.9,307.7 L484.9,305.9 L485.9,304.1 L486.9,302.4 L487.9,300.6 L488.9,298.8 L489.9,297.1 L490.9,295.3 L491.9,293.6 L492.9,291.8 L493.9,290.1 L494.9,288.4 L495.9,286.6 L496.9,284.9 L497.9,283.2 L498.9,281.4 L499.9,279.7 L500.9,278.0 L501.9,276.3 L502.9,274.7 L503.9,273.0 L504.9,271.4 L505.9,269.7 L506.9,268.1 L507.9,266.5 L508.9,264.9 L509.9,263.3 L510.9,261.8 L511.9,260.2 L512.9,258.7 L513.9,257.2 L514.9,255.7 L515.9,254.2 L516.9,252.8 L517.9,251.3 L518.9,249.9 L519.9,248.5 L520.9,247.1 L521.9,245.7 L522.9,244.4 L523.9,243.0 L524.9,241.7 L525.9,240.4 L526.9,239.1 L527.9,237.9 L528.9,236.6 L529.9,235.4 L530.9,234.2 L531.9,233.0 L532.9,231.8 L533.9,230.6 L534.9,229.4 L535.9,228.3 L536.9,227.1 L537.9,226.0 L538.9,224.8 L539.9,223.7 L540.9,222.6 L541.9,221.5 L542.9,220.3 L543.9,219.2 L544.9,218.1 L545.9,217.0 L546.9,215.9 L547.9,214.8 L548.9,213.7 L549.9,212.6 L550.9,211.4 L551.9,210.3 L552.9,209.2 L553.9,208.1 L554.9,207.0 L555.9,205.9 L556.9,204.7 L557.9,203.6 L558.9,202.5 L559.9,201.4 L560.9,200.3 L561.9,199.3 L562.9,198.2 L563.9,197.1 L564.9,196.1 L565.9,195.0 L566.9,194.0 L567.9,193.0 L568.9,191.9 L569.9,191.0 L570.9,190.0 L571.9,189.0 L572.9,188.0 L573.9,187.1 L574.9,186.2 L575.9,185.2 L576.9,184.3 L577.9,183.4 L578.9,182.5 L579.9,181.6 L580.9,180.7 L581.9,179.9 L582.9,179.0 L583.9,178.1 L584.9,177.3 L585.9,176.4 L586.9,175.5 L587.9,174.7 L588.9,173.8 L589.9,173.0 L590.9,172.1 L591.9,171.2 L592.9,170.4 L593.9,169.5 L594.9,168.7 L595.9,167.8 L596.9,166.9 L597.9,166.0 L598.9,165.2 L599.9,164.3 L600.9,163.4 L601.9,162.5 L602.9,161.6 L603.9,160.7 L604.9,159.8 L605.9,158.9 L606.9,158.0 L607.9,157.1 L608.9,156.2 L609.9,155.3 L610.9,154.4 L611.9,153.5 L612.9,152.6 L613.9,151.7 L614.9,150.8 L615.9,149.9 L616.9,149.0 L617.9,148.1 L618.9,147.2 L619.9,146.3 L620.9,145.4 L621.9,144.5 L622.9,143.7 L623.9,142.8 L624.9,141.9 L625.9,141.0 L626.9,140.2 L627.9,139.3 L628.9,138.5 L629.9,137.6 L630.9,136.8 L631.9,135.9 L632.9,135.1 L633.9,134.3 L634.9,133.4 L635.9,132.6 L636.9,131.8 L637.9,131.0 L638.9,130.1 L639.9,129.3 L640.9,128.5 L641.9,127.7 L642.9,126.9 L643.9,126.1 L644.9,125.3 L645.9,124.4 L646.9,123.6 L647.9,122.8 L648.9,122.0 L649.9,121.2 L650.9,120.4 L651.9,119.6 L652.3,119.3" stroke="#2a2462"/><path d="M104.9,598.1 L105.9,598.1 L106.9,598.1 L107.9,598.1 L108.9,598.1 L109.9,598.1 L110.9,598.1 L111.9,598.1 L112.9,598.1 L113.9,598.1 L114.9,598.1 L115.9,598.1 L116.9,598.1 L117.9,598.1 L118.9,598.1 L119.9,598.1 L120.9,598.1 L121.9,598.1 L122.9,598.1 L123.9,598.1 L124.9,598.1 L125.9,598.1 L126.9,598.1 L127.9,598.1 L128.9,598.1 L129.9,598.1 L130.9,598.1 L131.9,598.1 L132.9,598.1 L133.9,598.1 L134.9,598.1 L135.9,598.1 L136.9,598.1 L137.9,598.1 L138.9,598.1 L139.9,598.1 L140.9,598.1 L141.9,598.1 L142.9,598.1 L143.9,598.1 L144.9,598.1 L145.9,598.1 L146.9,598.1 L147.9,598.1 L148.9,598.1 L149.9,598.1 L150.9,598.1 L151.9,598.1 L152.9,598.1 L153.9,598.1 L154.9,598.1 L155.9,598.1 L156.9,598.1 L157.9,598.1 L158.9,598.1 L159.9,598.1 L160.9,598.1 L161.9,598.1 L162.9,598.1 L163.9,598.1 L164.9,598.1 L165.9,598.1 L166.9,598.1 L167.9,598.1 L168.9,598.1 L169.9,598.1 L170.9,598.1 L171.9,598.1 L172.9,598.1 L173.9,598.1 L174.9,598.1 L175.9,598.1 L176.9,598.1 L177.9,598.1 L178.9,598.1 L179.9,598.1 L180.9,598.1 L181.9,598.1 L182.9,598.1 L183.9,598.1 L184.9,598.1 L185.9,598.1 L186.9,598.1 L187.9,598.1 L188.9,598.1 L189.9,598.1 L190.9,598.1 L191.9,598.1 L192.9,598.1 L193.9,598.1 L194.9,598.1 L195.9,598.1 L196.9,598.1 L197.9,598.1 L198.9,598.1 L199.9,598.1 L200.9,598.1 L201.9,598.1 L202.9,598.1 L203.9,598.1 L204.9,598.1 L205.9,598.1 L206.9,598.1 L207.9,598.1 L208.9,598.1 L209.9,598.1 L210.9,598.1 L211.9,598.1 L212.9,598.1 L213.9,598.1 L214.9,598.1 L215.9,598.1 L216.9,598.1 L217.9,598.1 L218.9,598.1 L219.9,598.1 L220.9,598.1 L221.9,598.1 L222.9,598.1 L223.9,598.1 L224.9,598.1 L225.9,598.1 L226.9,598.1 L227.9,598.1 L228.9,598.1 L229.9,598.1 L230.9,598.1 L231.9,598.1 L232.9,598.1 L233.9,598.1 L234.9,598.1 L235.9,598.1 L236.9,598.1 L237.9,598.1 L238.9,598.1 L239.9,598.1 L240.9,598.1 L241.9,598.1 L242.9,598.1 L243.9,598.1 L244.9,598.1 L245.9,598.1 L246.9,598.1 L247.9,598.1 L248.9,598.1 L249.9,598.1 L250.9,598.1 L251.9,598.1 L252.9,598.1 L253.9,598.1 L254.9,598.1 L255.9,598.1 L256.9,598.1 L257.9,598.1 L258.9,598.1 L259.9,598.1 L260.9,598.1 L261.9,598.1 L262.9,598.1 L263.9,598.1 L264.9,598.0 L265.9,598.0 L266.9,598.0 L267.9,598.0 L268.9,597.9 L269.9,597.9 L270.9,597.9 L271.9,597.8 L272.9,597.8 L273.9,597.7 L274.9,597.7 L275.9,597.7 L276.9,597.6 L277.9,597.6 L278.9,597.5 L279.9,597.5 L280.9,597.4 L281.9,597.4 L282.9,597.3 L283.9,597.2 L284.9,597.2 L285.9,597.1 L286.9,597.0 L287.9,597.0 L288.9,596.9 L289.9,596.8 L290.9,596.7 L291.9,596.6 L292.9,596.5 L293.9,596.4 L294.9,596.3 L295.9,596.2 L296.9,596.1 L297.9,596.0 L298.9,595.9 L299.9,595.7 L300.9,595.6 L301.9,595.5 L302.9,595.3 L303.9,595.2 L304.9,595.0 L305.9,594.8 L306.9,594.6 L307.9,594.4 L308.9,594.3 L309.9,594.0 L310.9,593.8 L311.9,593.6 L312.9,593.4 L313.9,593.1 L314.9,592.9 L315.9,592.6 L316.9,592.3 L317.9,592.1 L318.9,591.8 L319.9,591.5 L320.9,591.1 L321.9,590.8 L322.9,590.5 L323.9,590.1 L324.9,589.7 L325.9,589.4 L326.9,589.0 L327.9,588.6 L328.9,588.1 L329.9,587.7 L330.9,587.3 L331.9,586.8 L332.9,586.3 L333.9,585.8 L334.9,585.3 L335.9,584.8 L336.9,584.2 L337.9,583.7 L338.9,583.1 L339.9,582.5 L340.9,581.8 L341.9,581.2 L342.9,580.5 L343.9,579.8 L344.9,579.1 L345.9,578.4 L346.9,577.6 L347.9,576.8 L348.9,576.0 L349.9,575.2 L350.9,574.3 L351.9,573.4 L352.9,572.5 L353.9,571.6 L354.9,570.6 L355.9,569.6 L356.9,568.6 L357.9,567.5 L358.9,566.4 L359.9,565.3 L360.9,564.2 L361.9,563.0 L362.9,561.8 L363.9,560.5 L364.9,559.3 L365.9,558.0 L366.9,556.7 L367.9,555.4 L368.9,554.0 L369.9,552.6 L370.9,551.2 L371.9,549.8 L372.9,548.3 L373.9,546.8 L374.9,545.3 L375.9,543.8 L376.9,542.3 L377.9,540.7 L378.9,539.2 L379.9,537.6 L380.9,536.0 L381.9,534.4 L382.9,532.8 L383.9,531.2 L384.9,529.5 L385.9,527.9 L386.9,526.2 L387.9,524.5 L388.9,522.8 L389.9,521.1 L390.9,519.4 L391.9,517.7 L392.9,516.0 L393.9,514.2 L394.9,512.5 L395.9,510.7 L396.9,509.0 L397.9,507.3 L398.9,505.5 L399.9,503.8 L400.9,502.1 L401.9,500.4 L402.9,498.7 L403.9,497.0 L404.9,495.3 L405.9,493.7 L406.9,492.0 L407.9,490.4 L408.9,488.7 L409.9,487.1 L410.9,485.5 L411.9,483.9 L412.9,482.4 L413.9,480.8 L414.9,479.2 L415.9,477.7 L416.9,476.1 L417.9,474.6 L418.9,473.0 L419.9,471.5 L420.9,470.0 L421.9,468.5 L422.9,466.9 L423.9,465.4 L424.9,463.9 L425.9,462.4 L426.9,460.8 L427.9,459.3 L428.9,457.8 L429.9,456.2 L430.9,454.7 L431.9,453.1 L432.9,451.6 L433.9,450.0 L434.9,448.4 L435.9,446.9 L436.9,445.3 L437.9,443.7 L438.9,442.1 L439.9,440.5 L440.9,438.9 L441.9,437.3 L442.9,435.7 L443.9,434.2 L444.9,432.6 L445.9,431.0 L446.9,429.4 L447.9,427.8 L448.9,426.2 L449.9,424.6 L450.9,423.0 L451.9,421.5 L452.9,419.9 L453.9,418.3 L454.9,416.7 L455.9,415.2 L456.9,413.6 L457.9,412.1 L458.9,410.5 L459.9,409.0 L460.9,407.4 L461.9,405.9 L462.9,404.4 L463.9,402.9 L464.9,401.4 L465.9,399.9 L466.9,398.4 L467.9,396.9 L468.9,395.5 L469.9,394.0 L470.9,392.6 L471.9,391.2 L472.9,389.7 L473.9,388.3 L474.9,386.9 L475.9,385.5 L476.9,384.1 L477.9,382.7 L478.9,381.3 L479.9,379.9 L480.9,378.5 L481.9,377.1 L482.9,375.7 L483.9,374.3 L484.9,373.0 L485.9,371.6 L486.9,370.2 L487.9,368.9 L488.9,367.6 L489.9,366.2 L490.9,364.9 L491.9,363.6 L492.9,362.3 L493.9,361.0 L494.9,359.8 L495.9,358.5 L496.9,357.2 L497.9,356.0 L498.9,354.7 L499.9,353.5 L500.9,352.2 L501.9,351.0 L502.9,349.8 L503.9,348.5 L504.9,347.3 L505.9,346.1 L506.9,344.9 L507.9,343.7 L508.9,342.5 L509.9,341.3 L510.9,340.1 L511.9,338.9 L512.9,337.7 L513.9,336.5 L514.9,335.3 L515.9,334.2 L516.9,333.0 L517.9,331.8 L518.9,330.7 L519.9,329.5 L520.9,328.4 L521.9,327.3 L522.9,326.1 L523.9,325.0 L524.9,323.9 L525.9,322.8 L526.9,321.7 L527.9,320.5 L528.9,319.4 L529.9,318.3 L530.9,317.3 L531.9,316.2 L532.9,315.1 L533.9,314.0 L534.9,313.0 L535.9,311.9 L536.9,310.8 L537.9,309.8 L538.9,308.7 L539.9,307.7 L540.9,306.7 L541.9,305.7 L542.9,304.6 L543.9,303.6 L544.9,302.6 L545.9,301.6 L546.9,300.6 L547.9,299.6 L548.9,298.7 L549.9,297.7 L550.9,296.7 L551.9,295.8 L552.9,294.8 L553.9,293.9 L554.9,293.0 L555.9,292.1 L556.9,291.2 L557.9,290.3 L558.9,289.4 L559.9,288.5 L560.9,287.7 L561.9,286.8 L562.9,286.0 L563.9,285.2 L564.9,284.4 L565.9,283.6 L566.9,282.8 L567.9,282.0 L568.9,281.3 L569.9,280.5 L570.9,279.8 L571.9,279.1 L572.9,278.3 L573.9,277.6 L574.9,276.9 L575.9,276.3 L576.9,275.6 L577.9,274.9 L578.9,274.3 L579.9,273.7 L580.9,273.0 L581.9,272.4 L582.9,271.8 L583.9,271.2 L584.9,270.6 L585.9,270.0 L586.9,269.4 L587.9,268.8 L588.9,268.2 L589.9,267.6 L590.9,267.0 L591.9,266.4 L592.9,265.8 L593.9,265.2 L594.9,264.6 L595.9,264.0 L596.9,263.4 L597.9,262.8 L598.9,262.2 L599.9,261.6 L600.9,261.1 L601.9,260.5 L602.9,259.9 L603.9,259.3 L604.9,258.7 L605.9,258.1 L606.9,257.6 L607.9,257.0 L608.9,256.4 L609.9,255.8 L610.9,255.2 L611.9,254.7 L612.9,254.1 L613.9,253.6 L614.9,253.0 L615.9,252.4 L616.9,251.9 L617.9,251.3 L618.9,250.8 L619.9,250.2 L620.9,249.7 L621.9,249.2 L622.9,248.6 L623.9,248.1 L624.9,247.6 L625.9,247.1 L626.9,246.6 L627.9,246.0 L628.9,245.5 L629.9,245.0 L630.9,244.5 L631.9,244.0 L632.9,243.5 L633.9,243.0 L634.9,242.5 L635.9,242.0 L636.9,241.5 L637.9,241.1 L638.9,240.6 L639.9,240.1 L640.9,239.6 L641.9,239.1 L642.9,238.6 L643.9,238.2 L644.9,237.7 L645.9,237.2 L646.9,236.7 L647.9,236.2 L648.9,235.8 L649.9,235.3 L650.9,234.8 L651.9,234.3 L652.3,234.1" stroke="#2a2462"/><path d="M104.9,598.1 L105.9,598.1 L106.9,598.1 L107.9,598.1 L108.9,598.1 L109.9,598.1 L110.9,598.1 L111.9,598.1 L112.9,598.1 L113.9,598.1 L114.9,598.1 L115.9,598.1 L116.9,598.1 L117.9,598.1 L118.9,598.1 L119.9,598.1 L120.9,598.1 L121.9,598.1 L122.9,598.1 L123.9,598.1 L124.9,598.1 L125.9,598.1 L126.9,598.1 L127.9,598.1 L128.9,598.1 L129.9,598.1 L130.9,598.1 L131.9,598.1 L132.9,598.1 L133.9,598.1 L134.9,598.1 L135.9,598.1 L136.9,598.1 L137.9,598.1 L138.9,598.1 L139.9,598.1 L140.9,598.1 L141.9,598.1 L142.9,598.1 L143.9,598.1 L144.9,598.1 L145.9,598.1 L146.9,598.1 L147.9,598.1 L148.9,598.1 L149.9,598.1 L150.9,598.1 L151.9,598.1 L152.9,598.1 L153.9,598.1 L154.9,598.1 L155.9,598.1 L156.9,598.1 L157.9,598.1 L158.9,598.1 L159.9,598.1 L160.9,598.1 L161.9,598.1 L162.9,598.1 L163.9,598.1 L164.9,598.1 L165.9,598.1 L166.9,598.1 L167.9,598.1 L168.9,598.1 L169.9,598.1 L170.9,598.1 L171.9,598.1 L172.9,598.1 L173.9,598.1 L174.9,598.1 L175.9,598.1 L176.9,598.1 L177.9,598.1 L178.9,598.1 L179.9,598.1 L180.9,598.1 L181.9,598.1 L182.9,598.1 L183.9,598.1 L184.9,598.1 L185.9,598.1 L186.9,598.1 L187.9,598.1 L188.9,598.1 L189.9,598.1 L190.9,598.1 L191.9,598.1 L192.9,598.1 L193.9,598.1 L194.9,598.1 L195.9,598.1 L196.9,598.1 L197.9,598.1 L198.9,598.1 L199.9,598.1 L200.9,598.1 L201.9,598.1 L202.9,598.1 L203.9,598.1 L204.9,598.1 L205.9,598.1 L206.9,598.1 L207.9,598.1 L208.9,598.1 L209.9,598.1 L210.9,598.1 L211.9,598.1 L212.9,598.1 L213.9,598.1 L214.9,598.1 L215.9,598.1 L216.9,598.1 L217.9,598.1 L218.9,598.1 L219.9,598.1 L220.9,598.1 L221.9,598.1 L222.9,598.1 L223.9,598.1 L224.9,598.1 L225.9,598.1 L226.9,598.1 L227.9,598.1 L228.9,598.1 L229.9,598.1 L230.9,598.1 L231.9,598.1 L232.9,598.1 L233.9,598.1 L234.9,598.1 L235.9,598.1 L236.9,598.1 L237.9,598.1 L238.9,598.1 L239.9,598.1 L240.9,598.1 L241.9,598.1 L242.9,598.1 L243.9,598.1 L244.9,598.1 L245.9,598.1 L246.9,598.1 L247.9,598.1 L248.9,598.1 L249.9,598.1 L250.9,598.1 L251.9,598.1 L252.9,598.1 L253.9,598.1 L254.9,598.1 L255.9,598.1 L256.9,598.1 L257.9,598.1 L258.9,598.1 L259.9,598.1 L260.9,598.1 L261.9,598.1 L262.9,598.1 L263.9,598.1 L264.9,598.0 L265.9,598.0 L266.9,598.0 L267.9,597.9 L268.9,597.9 L269.9,597.9 L270.9,597.8 L271.9,597.8 L272.9,597.8 L273.9,597.7 L274.9,597.7 L275.9,597.7 L276.9,597.6 L277.9,597.6 L278.9,597.5 L279.9,597.5 L280.9,597.4 L281.9,597.4 L282.9,597.3 L283.9,597.2 L284.9,597.2 L285.9,597.1 L286.9,597.0 L287.9,597.0 L288.9,596.9 L289.9,596.8 L290.9,596.7 L291.9,596.6 L292.9,596.6 L293.9,596.5 L294.9,596.4 L295.9,596.3 L296.9,596.1 L297.9,596.0 L298.9,595.9 L299.9,595.8 L300.9,595.7 L301.9,595.5 L302.9,595.4 L303.9,595.2 L304.9,595.1 L305.9,594.9 L306.9,594.7 L307.9,594.5 L308.9,594.3 L309.9,594.2 L310.9,593.9 L311.9,593.7 L312.9,593.5 L313.9,593.3 L314.9,593.0 L315.9,592.8 L316.9,592.5 L317.9,592.2 L318.9,591.9 L319.9,591.6 L320.9,591.3 L321.9,591.0 L322.9,590.7 L323.9,590.3 L324.9,589.9 L325.9,589.6 L326.9,589.2 L327.9,588.8 L328.9,588.3 L329.9,587.9 L330.9,587.4 L331.9,587.0 L332.9,586.5 L333.9,586.0 L334.9,585.4 L335.9,584.9 L336.9,584.3 L337.9,583.8 L338.9,583.2 L339.9,582.6 L340.9,581.9 L341.9,581.3 L342.9,580.6 L343.9,579.9 L344.9,579.2 L345.9,578.5 L346.9,577.8 L347.9,577.0 L348.9,576.2 L349.9,575.5 L350.9,574.7 L351.9,573.9 L352.9,573.0 L353.9,572.2 L354.9,571.3 L355.9,570.5 L356.9,569.6 L357.9,568.7 L358.9,567.9 L359.9,567.0 L360.9,566.1 L361.9,565.2 L362.9,564.2 L363.9,563.3 L364.9,562.4 L365.9,561.5 L366.9,560.6 L367.9,559.6 L368.9,558.7 L369.9,557.7 L370.9,556.8 L371.9,555.9 L372.9,554.9 L373.9,554.0 L374.9,553.0 L375.9,552.1 L376.9,551.2 L377.9,550.2 L378.9,549.3 L379.9,548.3 L380.9,547.4 L381.9,546.4 L382.9,545.5 L383.9,544.6 L384.9,543.6 L385.9,542.7 L386.9,541.8 L387.9,540.9 L388.9,539.9 L389.9,539.0 L390.9,538.1 L391.9,537.2 L392.9,536.3 L393.9,535.3 L394.9,534.4 L395.9,533.5 L396.9,532.6 L397.9,531.7 L398.9,530.8 L399.9,529.9 L400.9,529.0 L401.9,528.1 L402.9,527.1 L403.9,526.2 L404.9,525.3 L405.9,524.4 L406.9,523.5 L407.9,522.6 L408.9,521.6 L409.9,520.7 L410.9,519.8 L411.9,518.9 L412.9,518.0 L413.9,517.0 L414.9,516.1 L415.9,515.2 L416.9,514.3 L417.9,513.4 L418.9,512.5 L419.9,511.6 L420.9,510.7 L421.9,509.8 L422.9,508.9 L423.9,508.0 L424.9,507.1 L425.9,506.2 L426.9,505.3 L427.9,504.4 L428.9,503.5 L429.9,502.6 L430.9,501.7 L431.9,500.8 L432.9,499.9 L433.9,499.0 L434.9,498.2 L435.9,497.3 L436.9,496.4 L437.9,495.5 L438.9,494.6 L439.9,493.8 L440.9,492.9 L441.9,492.0 L442.9,491.1 L443.9,490.3 L444.9,489.4 L445.9,488.5 L446.9,487.6 L447.9,486.7 L448.9,485.8 L449.9,485.0 L450.9,484.1 L451.9,483.2 L452.9,482.3 L453.9,481.4 L454.9,480.5 L455.9,479.6 L456.9,478.7 L457.9,477.8 L458.9,476.9 L459.9,476.0 L460.9,475.1 L461.9,474.1 L462.9,473.2 L463.9,472.3 L464.9,471.4 L465.9,470.4 L466.9,469.5 L467.9,468.6 L468.9,467.6 L469.9,466.7 L470.9,465.8 L471.9,464.8 L472.9,463.9 L473.9,463.0 L474.9,462.1 L475.9,461.1 L476.9,460.2 L477.9,459.3 L478.9,458.4 L479.9,457.5 L480.9,456.5 L481.9,455.6 L482.9,454.7 L483.9,453.9 L484.9,453.0 L485.9,452.1 L486.9,451.2 L487.9,450.3 L488.9,449.5 L489.9,448.6 L490.9,447.8 L491.9,446.9 L492.9,446.1 L493.9,445.2 L494.9,444.4 L495.9,443.6 L496.9,442.8 L497.9,442.0 L498.9,441.2 L499.9,440.4 L500.9,439.6 L501.9,438.8 L502.9,438.0 L503.9,437.2 L504.9,436.5 L505.9,435.7 L506.9,435.0 L507.9,434.2 L508.9,433.5 L509.9,432.7 L510.9,432.0 L511.9,431.3 L512.9,430.6 L513.9,429.8 L514.9,429.1 L515.9,428.4 L516.9,427.7 L517.9,427.0 L518.9,426.3 L519.9,425.6 L520.9,424.9 L521.9,424.3 L522.9,423.6 L523.9,422.9 L524.9,422.2 L525.9,421.6 L526.9,420.9 L527.9,420.2 L528.9,419.6 L529.9,418.9 L530.9,418.2 L531.9,417.6 L532.9,416.9 L533.9,416.3 L534.9,415.6 L535.9,414.9 L536.9,414.3 L537.9,413.6 L538.9,413.0 L539.9,412.3 L540.9,411.7 L541.9,411.1 L542.9,410.4 L543.9,409.8 L544.9,409.1 L545.9,408.5 L546.9,407.9 L547.9,407.3 L548.9,406.6 L549.9,406.0 L550.9,405.4 L551.9,404.8 L552.9,404.1 L553.9,403.5 L554.9,402.9 L555.9,402.3 L556.9,401.7 L557.9,401.1 L558.9,400.5 L559.9,399.9 L560.9,399.3 L561.9,398.7 L562.9,398.1 L563.9,397.5 L564.9,396.9 L565.9,396.3 L566.9,395.8 L567.9,395.2 L568.9,394.6 L569.9,394.0 L570.9,393.4 L571.9,392.9 L572.9,392.3 L573.9,391.7 L574.9,391.2 L575.9,390.6 L576.9,390.0 L577.9,389.4 L578.9,388.9 L579.9,388.3 L580.9,387.7 L581.9,387.2 L582.9,386.6 L583.9,386.0 L584.9,385.5 L585.9,384.9 L586.9,384.3 L587.9,383.8 L588.9,383.2 L589.9,382.6 L590.9,382.1 L591.9,381.5 L592.9,380.9 L593.9,380.4 L594.9,379.8 L595.9,379.2 L596.9,378.6 L597.9,378.0 L598.9,377.5 L599.9,376.9 L600.9,376.3 L601.9,375.7 L602.9,375.1 L603.9,374.6 L604.9,374.0 L605.9,373.4 L606.9,372.8 L607.9,372.2 L608.9,371.6 L609.9,371.0 L610.9,370.4 L611.9,369.8 L612.9,369.2 L613.9,368.6 L614.9,368.0 L615.9,367.4 L616.9,366.8 L617.9,366.2 L618.9,365.6 L619.9,365.0 L620.9,364.4 L621.9,363.8 L622.9,363.2 L623.9,362.6 L624.9,362.0 L625.9,361.4 L626.9,360.8 L627.9,360.1 L628.9,359.5 L629.9,358.9 L630.9,358.3 L631.9,357.7 L632.9,357.0 L633.9,356.4 L634.9,355.8 L635.9,355.2 L636.9,354.5 L637.9,353.9 L638.9,353.3 L639.9,352.6 L640.9,352.0 L641.9,351.4 L642.9,350.7 L643.9,350.1 L644.9,349.5 L645.9,348.8 L646.9,348.2 L647.9,347.5 L648.9,346.9 L649.9,346.2 L650.9,345.6 L651.9,344.9 L652.3,344.7" stroke="#2a2462"/></g><line x1="64.7" y1="573.6" x2="679.8" y2="573.6" stroke="#2c8130" stroke-width="2.7"/><rect x="64.7" y="5.9" width="615.1" height="620.1" fill="none" stroke="#404040" stroke-width="1.8"/><g font-family="Liberation Sans, sans-serif" font-size="12" text-anchor="end" fill="#1e1e1e" stroke="#1e1e1e" stroke-width="0.45"><text x="51.4" y="602.4">0</text><text x="51.4" y="548.7">1000</text><text x="51.4" y="494.9">2000</text><text x="51.4" y="441.2">3000</text><text x="51.4" y="387.4">4000</text><text x="51.4" y="333.7">5000</text><text x="51.4" y="279.9">6000</text><text x="51.4" y="226.2">7000</text><text x="51.4" y="172.4">8000</text><text x="51.4" y="118.7">9000</text><text x="51.4" y="64.9">10000</text><text x="51.4" y="11.2">11000</text></g><rect x="0" y="0" width="62" height="4.8" fill="#fff"/><g font-family="Liberation Sans, sans-serif" font-size="12" text-anchor="middle" fill="#1e1e1e" stroke="#1e1e1e" stroke-width="0.45"><text x="96.7" y="650">0</text><text x="153.5" y="650">5</text><text x="215.8" y="650">10</text><text x="277.9" y="650">15</text><text x="340.5" y="650">20</text><text x="402.2" y="650">25</text><text x="465.4" y="650">30</text><text x="527.1" y="650">35</text><text x="588.9" y="650">40</text><text x="642.0" y="650">45</text></g><text x="75.3" y="566.6" font-family="Liberation Sans, sans-serif" font-size="12.5" textLength="39.8" lengthAdjust="spacingAndGlyphs" fill="#1a1a1a" stroke="#1a1a1a" stroke-width="0.35">467. 56</text><text x="327.2" y="676.5" font-family="Liberation Serif, serif" font-size="19.5" textLength="46.2" lengthAdjust="spacingAndGlyphs" fill="#111" stroke="#111" stroke-width="0.3">Cycle</text><text transform="translate(17.8,417) rotate(-90)" font-family="Liberation Serif, serif" font-size="20.5" textLength="181.7" lengthAdjust="spacingAndGlyphs" fill="#111" stroke="#111" stroke-width="0.3">Fluorescence intensity</text></svg></body></html>
